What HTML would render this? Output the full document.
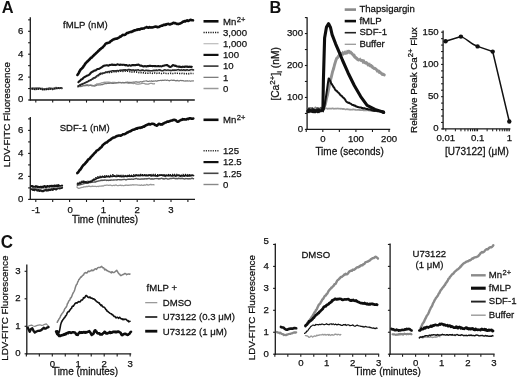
<!DOCTYPE html>
<html><head><meta charset="utf-8"><style>
html,body{margin:0;padding:0;background:#fff;}
body{width:520px;height:377px;overflow:hidden;}
svg{display:block;font-family:"Liberation Sans",sans-serif;will-change:transform;}
#w{width:520px;height:377px;}
</style></head><body>
<div id="w"><svg width="520" height="377" viewBox="0 0 520 377">
<rect width="520" height="377" fill="#fff"/>
<text transform="translate(1.7,12.9) scale(0.9615,1)" font-size="17.06" text-anchor="start" font-weight="bold" fill="#111" >A</text>
<text transform="translate(269.6,12.9) scale(0.9615,1)" font-size="17.06" text-anchor="start" font-weight="bold" fill="#111" >B</text>
<text transform="translate(0.7,248.4) scale(0.9615,1)" font-size="17.68" text-anchor="start" font-weight="bold" fill="#111" >C</text>
<line x1="30.3" y1="17.2" x2="30.3" y2="100.6" stroke="#1a1a1a" stroke-width="1.3"/>
<line x1="28.1" y1="100" x2="30.3" y2="100" stroke="#1a1a1a" stroke-width="1.1"/>
<line x1="28.1" y1="88.55" x2="30.3" y2="88.55" stroke="#1a1a1a" stroke-width="1.1"/>
<line x1="28.1" y1="77.1" x2="30.3" y2="77.1" stroke="#1a1a1a" stroke-width="1.1"/>
<line x1="28.1" y1="65.65" x2="30.3" y2="65.65" stroke="#1a1a1a" stroke-width="1.1"/>
<line x1="28.1" y1="54.2" x2="30.3" y2="54.2" stroke="#1a1a1a" stroke-width="1.1"/>
<line x1="28.1" y1="42.75" x2="30.3" y2="42.75" stroke="#1a1a1a" stroke-width="1.1"/>
<line x1="28.1" y1="31.3" x2="30.3" y2="31.3" stroke="#1a1a1a" stroke-width="1.1"/>
<line x1="28.1" y1="19.85" x2="30.3" y2="19.85" stroke="#1a1a1a" stroke-width="1.1"/>
<text transform="translate(23.4,102.46) scale(1.0000,1)" font-size="9.60" text-anchor="end" font-weight="normal" fill="#111" stroke="#111" stroke-width="0.25" >0</text>
<text transform="translate(23.4,79.56) scale(1.0000,1)" font-size="9.60" text-anchor="end" font-weight="normal" fill="#111" stroke="#111" stroke-width="0.25" >2</text>
<text transform="translate(23.4,56.66) scale(1.0000,1)" font-size="9.60" text-anchor="end" font-weight="normal" fill="#111" stroke="#111" stroke-width="0.25" >4</text>
<text transform="translate(23.4,33.76) scale(1.0000,1)" font-size="9.60" text-anchor="end" font-weight="normal" fill="#111" stroke="#111" stroke-width="0.25" >6</text>
<line x1="29.7" y1="100" x2="194.8" y2="100" stroke="#1a1a1a" stroke-width="1.3"/>
<line x1="35.8" y1="100" x2="35.8" y2="102.6" stroke="#1a1a1a" stroke-width="1.1"/>
<line x1="52.7" y1="100" x2="52.7" y2="102.6" stroke="#1a1a1a" stroke-width="1.1"/>
<line x1="69.6" y1="100" x2="69.6" y2="102.6" stroke="#1a1a1a" stroke-width="1.1"/>
<line x1="86.5" y1="100" x2="86.5" y2="102.6" stroke="#1a1a1a" stroke-width="1.1"/>
<line x1="103.4" y1="100" x2="103.4" y2="102.6" stroke="#1a1a1a" stroke-width="1.1"/>
<line x1="120.3" y1="100" x2="120.3" y2="102.6" stroke="#1a1a1a" stroke-width="1.1"/>
<line x1="137.2" y1="100" x2="137.2" y2="102.6" stroke="#1a1a1a" stroke-width="1.1"/>
<line x1="154.1" y1="100" x2="154.1" y2="102.6" stroke="#1a1a1a" stroke-width="1.1"/>
<line x1="171" y1="100" x2="171" y2="102.6" stroke="#1a1a1a" stroke-width="1.1"/>
<line x1="187.9" y1="100" x2="187.9" y2="102.6" stroke="#1a1a1a" stroke-width="1.1"/>
<text transform="translate(63.1,27.9) scale(0.9615,1)" font-size="9.98" text-anchor="start" font-weight="normal" fill="#111" stroke="#111" stroke-width="0.25" >fMLP (nM)</text>
<line x1="30.3" y1="117" x2="30.3" y2="200" stroke="#1a1a1a" stroke-width="1.3"/>
<line x1="28.1" y1="199.4" x2="30.3" y2="199.4" stroke="#1a1a1a" stroke-width="1.1"/>
<line x1="28.1" y1="187.9" x2="30.3" y2="187.9" stroke="#1a1a1a" stroke-width="1.1"/>
<line x1="28.1" y1="176.4" x2="30.3" y2="176.4" stroke="#1a1a1a" stroke-width="1.1"/>
<line x1="28.1" y1="164.9" x2="30.3" y2="164.9" stroke="#1a1a1a" stroke-width="1.1"/>
<line x1="28.1" y1="153.4" x2="30.3" y2="153.4" stroke="#1a1a1a" stroke-width="1.1"/>
<line x1="28.1" y1="141.9" x2="30.3" y2="141.9" stroke="#1a1a1a" stroke-width="1.1"/>
<line x1="28.1" y1="130.4" x2="30.3" y2="130.4" stroke="#1a1a1a" stroke-width="1.1"/>
<line x1="28.1" y1="118.9" x2="30.3" y2="118.9" stroke="#1a1a1a" stroke-width="1.1"/>
<text transform="translate(23.4,201.86) scale(1.0000,1)" font-size="9.60" text-anchor="end" font-weight="normal" fill="#111" stroke="#111" stroke-width="0.25" >0</text>
<text transform="translate(23.4,178.86) scale(1.0000,1)" font-size="9.60" text-anchor="end" font-weight="normal" fill="#111" stroke="#111" stroke-width="0.25" >2</text>
<text transform="translate(23.4,155.86) scale(1.0000,1)" font-size="9.60" text-anchor="end" font-weight="normal" fill="#111" stroke="#111" stroke-width="0.25" >4</text>
<text transform="translate(23.4,132.86) scale(1.0000,1)" font-size="9.60" text-anchor="end" font-weight="normal" fill="#111" stroke="#111" stroke-width="0.25" >6</text>
<line x1="29.7" y1="199.4" x2="195" y2="199.4" stroke="#1a1a1a" stroke-width="1.3"/>
<line x1="35.8" y1="199.4" x2="35.8" y2="202" stroke="#1a1a1a" stroke-width="1.1"/>
<line x1="52.7" y1="199.4" x2="52.7" y2="202" stroke="#1a1a1a" stroke-width="1.1"/>
<line x1="69.6" y1="199.4" x2="69.6" y2="202" stroke="#1a1a1a" stroke-width="1.1"/>
<line x1="86.5" y1="199.4" x2="86.5" y2="202" stroke="#1a1a1a" stroke-width="1.1"/>
<line x1="103.4" y1="199.4" x2="103.4" y2="202" stroke="#1a1a1a" stroke-width="1.1"/>
<line x1="120.3" y1="199.4" x2="120.3" y2="202" stroke="#1a1a1a" stroke-width="1.1"/>
<line x1="137.2" y1="199.4" x2="137.2" y2="202" stroke="#1a1a1a" stroke-width="1.1"/>
<line x1="154.1" y1="199.4" x2="154.1" y2="202" stroke="#1a1a1a" stroke-width="1.1"/>
<line x1="171" y1="199.4" x2="171" y2="202" stroke="#1a1a1a" stroke-width="1.1"/>
<line x1="187.9" y1="199.4" x2="187.9" y2="202" stroke="#1a1a1a" stroke-width="1.1"/>
<text transform="translate(35.8,213.4) scale(1.0000,1)" font-size="9.60" text-anchor="middle" font-weight="normal" fill="#111" stroke="#111" stroke-width="0.25" >-1</text>
<text transform="translate(70.2,213.4) scale(1.0000,1)" font-size="9.60" text-anchor="middle" font-weight="normal" fill="#111" stroke="#111" stroke-width="0.25" >0</text>
<text transform="translate(103.4,213.4) scale(1.0000,1)" font-size="9.60" text-anchor="middle" font-weight="normal" fill="#111" stroke="#111" stroke-width="0.25" >1</text>
<text transform="translate(137.2,213.4) scale(1.0000,1)" font-size="9.60" text-anchor="middle" font-weight="normal" fill="#111" stroke="#111" stroke-width="0.25" >2</text>
<text transform="translate(171,213.4) scale(1.0000,1)" font-size="9.60" text-anchor="middle" font-weight="normal" fill="#111" stroke="#111" stroke-width="0.25" >3</text>
<text transform="translate(105,222.6) scale(0.9615,1)" font-size="10.40" text-anchor="middle" font-weight="normal" fill="#111" stroke="#111" stroke-width="0.25" >Time (minutes)</text>
<text transform="translate(59.7,131.4) scale(0.9615,1)" font-size="9.98" text-anchor="start" font-weight="normal" fill="#111" stroke="#111" stroke-width="0.25" >SDF-1 (nM)</text>
<text transform="translate(9.9,114.7) rotate(-90)" font-size="9.8" text-anchor="middle" fill="#111" stroke="#111" stroke-width="0.25">LDV-FITC Fluorescence</text>
<polyline points="31.7,88.46 32.4,88.28 33.11,88.59 33.81,88.31 34.52,88.53 35.22,88.53 35.93,88.3 36.63,88.54 37.34,88.31 38.04,88.51 38.75,88.34 39.45,88.28 40.16,88.52 40.86,88.96 41.57,88.65 42.27,88.58 42.97,88.87 43.68,89.27 44.38,89.2 45.09,89.02 45.79,89.33 46.5,88.75 47.2,89.07 47.91,88.77 48.61,88.48 49.32,88.3 50.02,88.33 50.73,88.72 51.43,88.4 52.13,88.53 52.84,88.62 53.54,88.44 54.25,88.46 54.95,88.08 55.66,87.87 56.36,87.85 57.07,88.19 57.77,88.14 58.48,88.01 59.18,88.13 59.89,88.07 60.59,87.9 61.3,88.18 62,88.22" fill="none" stroke="#555" stroke-width="2.0" stroke-linejoin="round" stroke-linecap="round"/>
<polyline points="31.7,88.67 32.4,88.87 33.11,88.94 33.81,89.29 34.52,89.35 35.22,89 35.93,89.45 36.63,88.92 37.34,88.93 38.04,89.25 38.75,88.89 39.45,89.01 40.16,88.69 40.86,89.09 41.57,89.39 42.27,89.38 42.97,89.65 43.68,89.3 44.38,89.47 45.09,89.47 45.79,89.41 46.5,89.25 47.2,89.49 47.91,89.68 48.61,89.34 49.32,89.32 50.02,88.75 50.73,89.01 51.43,89.08 52.13,89.39 52.84,89.38 53.54,88.88 54.25,88.7 54.95,88.83 55.66,88.31 56.36,88.42 57.07,88.19 57.77,88.01 58.48,87.85 59.18,88.37 59.89,88.05 60.59,87.97 61.3,88.04 62,88.48" fill="none" stroke="#111" stroke-width="1.6" stroke-linejoin="round" stroke-linecap="butt" stroke-dasharray="1.3 0.9"/>
<polyline points="77.6,86.62 78.31,86.57 79.01,86.53 79.72,86.65 80.42,86.59 81.13,86.5 81.83,86 82.54,85.75 83.24,85.52 83.95,85.66 84.66,85.71 85.36,85.12 86.07,84.77 86.77,84.75 87.48,84.75 88.18,84.94 88.89,85.12 89.59,85.01 90.3,84.8 91,84.99 91.71,85.07 92.42,85.26 93.12,85.62 93.83,85.65 94.53,85.29 95.24,84.96 95.94,84.67 96.65,83.94 97.35,83.97 98.06,83.76 98.77,83.78 99.47,83.7 100.18,83.34 100.88,83.12 101.59,82.77 102.29,82.9 103,82.55 103.7,82.33 104.41,82.26 105.11,82.17 105.82,82.29 106.53,82.16 107.23,82.06 107.94,82.12 108.64,82.12 109.35,82.29 110.05,82.16 110.76,82.66 111.46,82.74 112.17,82.48 112.88,82.42 113.58,82.45 114.29,82.49 114.99,82.35 115.7,82.76 116.4,83.07 117.11,82.88 117.81,82.79 118.52,82.5 119.22,82.36 119.93,82.45 120.64,82.45 121.34,82.83 122.05,82.58 122.75,82.37 123.46,82.88 124.16,82.86 124.87,82.6 125.57,82.77 126.28,82.54 126.99,82.78 127.69,83.22 128.4,83.39 129.1,83.38 129.81,83.12 130.51,83.08 131.22,82.95 131.92,83.31 132.63,83.35 133.33,83.56 134.04,83.39 134.75,83.26 135.45,83.61 136.16,83.92 136.86,84.01 137.57,84.05 138.27,84.1 138.98,84.1 139.68,83.78 140.39,83.81 141.1,83.7 141.8,83.42 142.51,83.28 143.21,83.37 143.92,83.39 144.62,83.69 145.33,84 146.03,83.82 146.74,84.05 147.44,84.19 148.15,84.23 148.86,83.86 149.56,83.58 150.27,83.43 150.97,83.34 151.68,83.29 152.38,83.54 153.09,83.84 153.79,83.94 154.5,83.75" fill="none" stroke="#999" stroke-width="1.3" stroke-linejoin="round" stroke-linecap="round"/>
<polyline points="77.6,86.8 78.3,86.83 79,86.32 79.71,86.38 80.41,86.52 81.11,86.44 81.81,86.33 82.52,86.03 83.22,85.63 83.92,85.77 84.62,85.48 85.33,85.59 86.03,85.7 86.73,85.49 87.43,85.41 88.14,85.76 88.84,85.81 89.54,85.5 90.24,85.34 90.95,85.3 91.65,85.81 92.35,86.02 93.05,85.72 93.76,86.04 94.46,86.2 95.16,85.96 95.86,85.57 96.57,85.43 97.27,85.02 97.97,84.66 98.67,85.04 99.38,84.94 100.08,84.74 100.78,84.84 101.48,84.49 102.18,84.56 102.89,84.54 103.59,84.08 104.29,83.83 104.99,83.69 105.7,83.54 106.4,83.66 107.1,83.45 107.8,83.41 108.51,83.16 109.21,83.51 109.91,83.27 110.61,83.22 111.32,83.26 112.02,83.47 112.72,83.24 113.42,83.44 114.13,83.24 114.83,83.14 115.53,83.07 116.23,82.68 116.94,82.75 117.64,82.59 118.34,82.38 119.04,82.78 119.75,82.54 120.45,82.61 121.15,82.79 121.85,82.75 122.56,82.55 123.26,82.57 123.96,82.58 124.66,82.72 125.36,82.32 126.07,82.4 126.77,82.21 127.47,82.12 128.17,82.38 128.88,82.32 129.58,82.3 130.28,82.4 130.98,82.54 131.69,82.27 132.39,82.23 133.09,82.12 133.79,82.05 134.5,82.12 135.2,81.97 135.9,81.93 136.6,81.86 137.31,82.11 138.01,82.05 138.71,82.12 139.41,82.18 140.12,81.74 140.82,81.7 141.52,81.91 142.22,81.93 142.93,81.45 143.63,81.19 144.33,81.24 145.03,81.01 145.74,80.98 146.44,80.84 147.14,81.14 147.84,81.35 148.54,81.51 149.25,81.08 149.95,81.21 150.65,81.23 151.35,80.88 152.06,81.18 152.76,81.37 153.46,80.95 154.16,81.21 154.87,80.96 155.57,80.87 156.27,81.15 156.97,81.16 157.68,80.71 158.38,80.65 159.08,80.65 159.78,80.52 160.49,80.35 161.19,80.32 161.89,80.56 162.59,80.2 163.3,80.36 164,80.34 164.7,80.04 165.4,80.08 166.11,80.28 166.81,80.28 167.51,80.02 168.21,80.51 168.92,80.63 169.62,80.83 170.32,80.36 171.02,80.25 171.72,80.05 172.43,80.45 173.13,80.33 173.83,80.18 174.53,80.31 175.24,80.71 175.94,80.86 176.64,80.58 177.34,80.37 178.05,80.79 178.75,80.78 179.45,80.87 180.15,80.52 180.86,80.34 181.56,80.67 182.26,80.68 182.96,80.46 183.67,80.93 184.37,80.98 185.07,81.12 185.77,80.73 186.48,81.05 187.18,80.71 187.88,81.07 188.58,80.99 189.29,80.89 189.99,80.99 190.69,81.29 191.39,81.02 192.1,80.81 192.8,80.97 193.5,80.87" fill="none" stroke="#777" stroke-width="1.2" stroke-linejoin="round" stroke-linecap="round"/>
<polyline points="78,86.43 78.7,86.05 79.4,85.66 80.1,85.38 80.8,85.13 81.5,84.85 82.2,84.75 82.9,84.34 83.6,84.07 84.3,83.64 85,83.3 85.7,82.81 86.4,82.5 87.1,82.06 87.8,81.98 88.5,81.69 89.2,81.21 89.9,80.92 90.6,80.76 91.3,80.11 92,79.91 92.7,79.44 93.4,79.04 94.1,78.79 94.8,78.27 95.5,77.82 96.2,77.45 96.9,77.18 97.6,76.55 98.3,76.23 99,75.79 99.7,75.32 100.4,74.79 101.1,74.38 101.8,73.89 102.5,73.51 103.2,73.14 103.9,73.08 104.6,72.82 105.3,72.65 106,72.5 106.7,72.71 107.4,72.79 108.1,72.7 108.8,72.44 109.5,72.25 110.2,72.14 110.9,72.12 111.6,71.93 112.3,71.92 113,71.8 113.7,72 114.4,72.07 115.1,71.89 115.8,71.63 116.5,71.79 117.2,71.55 117.9,71.41 118.6,71.16 119.3,71.16 120,71.18 120.7,71.16 121.4,70.99 122.1,71 122.8,70.76 123.5,70.72 124.2,70.6 124.9,70.71 125.6,70.6 126.3,70.54 127,70.63 127.7,70.65 128.4,70.81 129.1,70.87 129.8,70.99 130.5,71.02 131.2,71.05 131.9,71.14 132.6,70.97 133.3,70.86 134,71.09 134.7,70.86 135.4,71.01 136.1,71.06 136.8,70.84 137.5,71.08 138.2,71.24 138.9,71.21 139.6,71.26 140.3,71.33 141,71.07 141.7,71.13 142.4,71.16 143.1,71.33 143.8,71.41 144.5,71.48 145.2,71.41 145.9,71.52 146.6,71.5 147.3,71.5 148,71.31 148.7,71.14 149.4,71.11 150.1,71.2 150.8,71.12 151.5,71.39 152.2,71.41 152.9,71.44 153.6,71.45 154.3,71.48 155,71.4 155.7,71.14 156.4,71.36 157.1,71.45 157.8,71.38 158.5,71.35 159.2,71.39 159.9,71.14 160.6,71.31 161.3,71.18 162,71.03 162.7,71.03 163.4,71.24 164.1,71.1 164.8,71.27 165.5,71.45 166.2,71.33 166.9,71.21 167.6,71.19 168.3,71.27 169,71.34 169.7,71.3 170.4,71.29 171.1,71.04 171.8,70.93 172.5,70.93 173.2,71.13 173.9,71.04 174.6,71.1 175.3,70.89 176,70.8 176.7,70.84 177.4,71.03 178.1,71.14 178.8,71.18 179.5,71.02 180.2,71.04 180.9,71.02 181.6,71.01 182.3,70.85 183,71.1 183.7,70.92 184.4,71.17 185.1,71.27 185.8,70.91 186.5,70.92 187.2,71.09 187.9,71.23 188.6,71.07 189.3,70.9 190,70.79 190.7,71.05 191.4,70.86 192.1,70.92 192.8,70.75 193.5,70.83" fill="none" stroke="#c8c8c8" stroke-width="0.9" stroke-linejoin="round" stroke-linecap="round"/>
<polyline points="78,86.55 78.7,86.04 79.4,85.86 80.1,85.51 80.8,85.31 81.5,84.99 82.2,84.52 82.9,84.34 83.6,83.97 84.3,83.47 85,83.02 85.7,82.78 86.4,82.48 87.1,82.1 87.8,81.68 88.5,81.36 89.2,81.02 89.9,80.85 90.6,80.25 91.3,80 92,79.69 92.7,79.1 93.4,78.87 94.1,78.47 94.8,78.13 95.5,77.53 96.2,77.03 96.9,76.58 97.6,76.33 98.3,75.85 99,75.32 99.7,74.85 100.4,74.38 101.1,74 101.8,73.7 102.5,73.65 103.2,73.31 103.9,73.22 104.6,72.92 105.3,72.77 106,72.73 106.7,72.56 107.4,72.49 108.1,72.6 108.8,72.59 109.5,72.52 110.2,72.37 110.9,72.35 111.6,72.31 112.3,72.11 113,72.02 113.7,71.71 114.4,71.74 115.1,71.66 115.8,71.71 116.5,71.67 117.2,71.52 117.9,71.34 118.6,71.52 119.3,71.33 120,71.33 120.7,71.26 121.4,71.2 122.1,71.29 122.8,71.39 123.5,71.19 124.2,71.2 124.9,71.07 125.6,71.16 126.3,71.2 127,71.18 127.7,71.21 128.4,71.27 129.1,71.57 129.8,71.62 130.5,71.59 131.2,71.84 131.9,72.03 132.6,71.98 133.3,71.89 134,71.9 134.7,71.91 135.4,72.02 136.1,72.03 136.8,72.12 137.5,72.2 138.2,72.38 138.9,72.61 139.6,72.71 140.3,72.68 141,72.71 141.7,72.79 142.4,72.81 143.1,72.84 143.8,72.8 144.5,72.89 145.2,73.17 145.9,73.02 146.6,73.07 147.3,73.15 148,73.26 148.7,73.11 149.4,73.06 150.1,73.02 150.8,73.06 151.5,73.1 152.2,73.29 152.9,73.35 153.6,73.4 154.3,73.14 155,73.02 155.7,73.19 156.4,73.34 157.1,73.28 157.8,73.29 158.5,73.1 159.2,73.14 159.9,73.34 160.6,73.41 161.3,73.46 162,73.53 162.7,73.33 163.4,73.18 164.1,73.13 164.8,73.23 165.5,73.33 166.2,73.48 166.9,73.48 167.6,73.46 168.3,73.49 169,73.41 169.7,73.4 170.4,73.23 171.1,73.4 171.8,73.3 172.5,73.49 173.2,73.49 173.9,73.38 174.6,73.27 175.3,73.27 176,73.39 176.7,73.48 177.4,73.33 178.1,73.25 178.8,73.36 179.5,73.44 180.2,73.42 180.9,73.36 181.6,73.45 182.3,73.31 183,73.34 183.7,73.41 184.4,73.61 185.1,73.61 185.8,73.7 186.5,73.61 187.2,73.49 187.9,73.44 188.6,73.65 189.3,73.67 190,73.56 190.7,73.41 191.4,73.5 192.1,73.6 192.8,73.57 193.5,73.51" fill="none" stroke="#1a1a1a" stroke-width="1.6" stroke-linejoin="round" stroke-linecap="butt" stroke-dasharray="1.2 1.1"/>
<polyline points="78,86.01 78.7,85.92 79.4,85.27 80.1,84.65 80.8,84.39 81.5,84.16 82.2,84.06 82.9,83.54 83.6,83.51 84.3,83.31 85,82.86 85.7,82.26 86.4,82.29 87.1,81.7 87.8,81.56 88.5,80.93 89.2,80.43 89.9,80.36 90.6,79.79 91.3,79.73 92,79.2 92.7,78.52 93.4,78 94.1,77.67 94.8,77.45 95.5,77.29 96.2,76.45 96.9,75.97 97.6,75.39 98.3,75.38 99,74.59 99.7,73.92 100.4,73.39 101.1,73.29 101.8,73.44 102.5,73.38 103.2,73.11 103.9,73.02 104.6,72.8 105.3,72.29 106,71.92 106.7,72.18 107.4,72.15 108.1,71.62 108.8,71.72 109.5,71.54 110.2,71.41 110.9,71.27 111.6,71.05 112.3,70.78 113,70.79 113.7,70.8 114.4,71.16 115.1,70.76 115.8,71.08 116.5,70.7 117.2,70.57 117.9,70.78 118.6,70.85 119.3,70.59 120,70.17 120.7,70.2 121.4,70.12 122.1,70.4 122.8,70.02 123.5,69.91 124.2,70.19 124.9,69.79 125.6,69.83 126.3,70.12 127,70.24 127.7,69.82 128.4,69.6 129.1,69.51 129.8,70.03 130.5,69.86 131.2,70.09 131.9,70.31 132.6,70.05 133.3,69.87 134,70.25 134.7,70.23 135.4,69.99 136.1,70.19 136.8,70.03 137.5,69.94 138.2,69.72 138.9,70.12 139.6,70.44 140.3,70.42 141,70.62 141.7,70.13 142.4,70.03 143.1,70.16 143.8,70.54 144.5,70.75 145.2,70.49 145.9,70.28 146.6,70.3 147.3,70.37 148,70.7 148.7,70.38 149.4,70.64 150.1,70.74 150.8,70.82 151.5,70.82 152.2,70.71 152.9,70.46 153.6,70.33 154.3,70.28 155,70.53 155.7,70.19 156.4,70.09 157.1,70.4 157.8,70.21 158.5,70 159.2,69.86 159.9,70.13 160.6,70.11 161.3,70.52 162,70.66 162.7,70.8 163.4,70.38 164.1,70.05 164.8,69.88 165.5,70.06 166.2,70.28 166.9,70.21 167.6,70.03 168.3,70.06 169,70.2 169.7,70.3 170.4,70.39 171.1,70.5 171.8,70.43 172.5,70.03 173.2,70.3 173.9,70.06 174.6,70.12 175.3,70.02 176,70.2 176.7,69.93 177.4,69.82 178.1,69.76 178.8,69.66 179.5,70.09 180.2,70.1 180.9,69.93 181.6,69.89 182.3,70.25 183,70.11 183.7,69.85 184.4,70.1 185.1,70.11 185.8,70.34 186.5,69.86 187.2,69.86 187.9,70.08 188.6,70.2 189.3,70.3 190,69.77 190.7,69.67 191.4,69.49 192.1,69.45 192.8,69.94 193.5,69.92" fill="none" stroke="#2a2a2a" stroke-width="1.6" stroke-linejoin="round" stroke-linecap="round"/>
<polyline points="78.4,82.18 79.1,81.39 79.8,81.03 80.5,80.29 81.2,79.51 81.9,79.18 82.6,78.84 83.3,77.83 84,77.37 84.7,77.03 85.4,76.52 86.1,76.22 86.8,75.78 87.5,75.47 88.2,75.2 88.9,74.86 89.6,74.38 90.3,73.53 91,72.66 91.7,72.12 92.4,71.81 93.1,71.29 93.8,70.94 94.5,70.53 95.2,70.55 95.9,70.23 96.6,69.58 97.3,69.13 98,69 98.7,68.9 99.4,68.78 100.1,68.23 100.8,67.69 101.5,67.49 102.2,66.95 102.9,66.35 103.6,65.81 104.3,65.78 105,65.49 105.7,65.49 106.4,65.31 107.1,65.23 107.8,65.45 108.5,65.61 109.2,65.24 109.9,64.91 110.6,65.07 111.3,64.76 112,64.48 112.7,64.94 113.4,64.84 114.1,65.04 114.8,64.86 115.5,65.08 116.2,64.9 116.9,64.61 117.6,64.36 118.3,64.58 119,64.74 119.7,64.99 120.4,64.58 121.1,64.79 121.8,64.75 122.5,64.85 123.2,64.69 123.9,64.73 124.6,64.94 125.3,65.34 126,65.02 126.7,65.15 127.4,65.45 128.1,65.73 128.8,65.39 129.5,65.1 130.2,65.47 130.9,65.65 131.6,65.39 132.3,64.95 133,65.28 133.7,65.06 134.4,65.27 135.1,65.16 135.8,65.22 136.5,64.78 137.2,64.95 137.9,64.64 138.6,64.62 139.3,65.19 140,65.6 140.7,65.51 141.4,65.63 142.1,65.95 142.8,66.33 143.5,66.46 144.2,66.2 144.9,66.11 145.6,66.35 146.3,66.54 147,66.04 147.7,66.09 148.4,66.21 149.1,65.76 149.8,66.03 150.5,65.73 151.2,65.93 151.9,66.01 152.6,66.12 153.3,65.98 154,66.01 154.7,66.14 155.4,66.12 156.1,66.29 156.8,66.25 157.5,66.24 158.2,65.98 158.9,66.26 159.6,66.33 160.3,66.15 161,66.32 161.7,66.37 162.4,66.12 163.1,65.76 163.8,65.72 164.5,65.41 165.2,65.22 165.9,65.26 166.6,65.01 167.3,65.07 168,65.73 168.7,66.03 169.4,66.84 170.1,67 170.8,66.75 171.5,66.37 172.2,65.72 172.9,65.11 173.6,65.36 174.3,65.46 175,65.95 175.7,65.72 176.4,66.14 177.1,66.5 177.8,66.57 178.5,66.72 179.2,66.45 179.9,66.9 180.6,66.76 181.3,67 182,67.1 182.7,66.66 183.4,66.85 184.1,67.05 184.8,66.59 185.5,66.55 186.2,66.8 186.9,66.54 187.6,66.9 188.3,66.68 189,66.93 189.7,66.62 190.4,66.7 191.1,67.03 191.8,66.73" fill="none" stroke="#151515" stroke-width="2.1" stroke-linejoin="round" stroke-linecap="round"/>
<polyline points="77.4,74.98 78.1,74.06 78.8,72.85 79.5,71.41 80.2,70.25 80.9,69.14 81.6,68.79 82.3,67.95 83,67.3 83.71,65.9 84.41,65.29 85.11,63.9 85.81,63.05 86.51,62.4 87.21,61.49 87.91,61.1 88.61,60.26 89.31,59.51 90.01,59.07 90.71,57.87 91.41,57.76 92.11,57.08 92.81,56.2 93.51,55.74 94.21,54.68 94.92,54.47 95.62,53.71 96.32,52.83 97.02,52.43 97.72,51.63 98.42,50.69 99.12,50.42 99.82,49.36 100.52,49.2 101.22,48.31 101.92,47.86 102.62,47.53 103.32,46.59 104.02,45.92 104.72,44.99 105.42,44.02 106.12,43.4 106.83,43.05 107.53,43.15 108.23,42.87 108.93,42.58 109.63,42.49 110.33,41.53 111.03,40.89 111.73,40.71 112.43,39.98 113.13,39.48 113.83,39.4 114.53,39 115.23,38.89 115.93,38.58 116.63,38.6 117.33,38.47 118.04,37.89 118.74,37.72 119.44,37.25 120.14,36.49 120.84,36.62 121.54,35.92 122.24,35.35 122.94,34.86 123.64,34.94 124.34,35.02 125.04,34.82 125.74,34.21 126.44,33.61 127.14,32.91 127.84,32.93 128.54,32.7 129.24,32.24 129.95,32.17 130.65,31.82 131.35,31.95 132.05,31.69 132.75,31 133.45,31.11 134.15,30.33 134.85,30.35 135.55,30.23 136.25,29.97 136.95,29.57 137.65,29.85 138.35,29.23 139.05,29.32 139.75,29.62 140.45,28.99 141.16,28.64 141.86,28.73 142.56,28.59 143.26,28.53 143.96,28.55 144.66,27.9 145.36,27.62 146.06,27.4 146.76,27.01 147.46,27.5 148.16,27.59 148.86,27.6 149.56,27.03 150.26,27.47 150.96,27.59 151.66,27.39 152.36,27.53 153.07,27.36 153.77,27.09 154.47,26.82 155.17,26.76 155.87,26.53 156.57,26.67 157.27,27.12 157.97,27.08 158.67,27.06 159.37,26.79 160.07,26.14 160.77,25.95 161.47,25.65 162.17,25.7 162.87,25.39 163.57,24.89 164.28,24.87 164.98,25.03 165.68,24.35 166.38,24.6 167.08,24.01 167.78,23.94 168.48,23.87 169.18,24.22 169.88,24.47 170.58,24.28 171.28,23.68 171.98,23.74 172.68,23.19 173.38,22.78 174.08,23.12 174.78,23.08 175.48,23.34 176.19,23.55 176.89,24.02 177.59,23.9 178.29,24.09 178.99,23.82 179.69,23.71 180.39,23.17 181.09,23.03 181.79,22.68 182.49,22.11 183.19,21.56 183.89,21.58 184.59,21.03 185.29,21.43 185.99,20.93 186.69,20.54 187.4,20.38 188.1,20.99 188.8,20.73 189.5,20.35 190.2,20 190.9,19.78 191.6,20.18 192.3,20.27 193,20.31" fill="none" stroke="#0d0d0d" stroke-width="2.6" stroke-linejoin="round" stroke-linecap="round"/>
<polyline points="31.7,186.22 32.4,186.16 33.11,187.08 33.81,186.76 34.52,187.18 35.22,187.03 35.93,186.22 36.63,186.54 37.34,186.72 38.04,187.28 38.75,186.9 39.45,187.33 40.16,187.27 40.86,186.85 41.57,187.66 42.27,186.82 42.97,187.49 43.68,186.73 44.38,186.21 45.09,186.28 45.79,187.01 46.5,187.47 47.2,186.2 47.91,186.44 48.61,186.45 49.32,186.82 50.02,186.02 50.73,186.15 51.43,185.93 52.13,186.48 52.84,185.85 53.54,186.59 54.25,185.88 54.95,185.55 55.66,186.1 56.36,185.97 57.07,185.37 57.77,185.9 58.48,185.27 59.18,186.04 59.89,186.13 60.59,186.26 61.3,186.06 62,185.6" fill="none" stroke="#111" stroke-width="2.3" stroke-linejoin="round" stroke-linecap="round"/>
<polyline points="31.7,189.06 32.4,189.12 33.11,189.9 33.81,189.1 34.52,190.05 35.22,189.21 35.93,189.29 36.63,189.47 37.34,190.48 38.04,190.31 38.75,190.16 39.45,190.9 40.16,190.29 40.86,190.5 41.57,190.74 42.27,191.12 42.97,191.12 43.68,190.9 44.38,190.36 45.09,190.09 45.79,189.71 46.5,190.48 47.2,190.39 47.91,190.4 48.61,189.55 49.32,189.59 50.02,190 50.73,189.79 51.43,189.02 52.13,189.19 52.84,189.78 53.54,188.99 54.25,188.64 54.95,188.62 55.66,189.12 56.36,189.4 57.07,188.47 57.77,188.13 58.48,188.1 59.18,188.14 59.89,188.37 60.59,187.87 61.3,187.9 62,187.65" fill="none" stroke="#1a1a1a" stroke-width="2.3" stroke-linejoin="round" stroke-linecap="round"/>
<polyline points="31.7,188.11 32.4,188.18 33.11,187.84 33.81,188.28 34.52,187.96 35.22,188.03 35.93,188.5 36.63,188.64 37.34,188.72 38.04,188.59 38.75,188.41 39.45,188.65 40.16,188.45 40.86,188.46 41.57,188.62 42.27,188.44 42.97,188.5 43.68,188.75 44.38,188.77 45.09,188.61 45.79,188.57 46.5,188.4 47.2,188.06 47.91,188.15 48.61,188.02 49.32,188.14 50.02,188.27 50.73,187.97 51.43,187.88 52.13,187.91 52.84,187.69 53.54,187.43 54.25,187.59 54.95,187.75 55.66,187.73 56.36,187.65 57.07,187.67 57.77,187.55 58.48,187.43 59.18,187.22 59.89,186.99 60.59,187.06 61.3,186.71 62,186.73" fill="none" stroke="#999" stroke-width="1.0" stroke-linejoin="round" stroke-linecap="round"/>
<polyline points="76.9,186.99 77.6,187.66 78.3,188.26 79,188.36 79.7,188.1 80.4,187.86 81.11,187.73 81.81,187.4 82.51,187.28 83.21,187.27 83.91,186.72 84.61,186.78 85.31,186.85 86.01,186.59 86.71,186.49 87.41,186.72 88.11,186.18 88.82,186.26 89.52,186.05 90.22,186.36 90.92,186.62 91.62,186.47 92.32,186.12 93.02,186.26 93.72,186.31 94.42,186.45 95.12,186.38 95.82,186.43 96.53,186.58 97.23,186.46 97.93,186.32 98.63,186.55 99.33,186.14 100.03,186.21 100.73,186.03 101.43,186.15 102.13,185.75 102.83,186.09 103.53,185.81 104.24,185.44 104.94,185.37 105.64,185.38 106.34,185.1 107.04,185.19 107.74,185.21 108.44,185.43 109.14,185.31 109.84,185.19 110.54,185.1 111.24,185.4 111.95,185.67 112.65,185.54 113.35,185.26 114.05,185.51 114.75,185.36 115.45,185.16 116.15,185.01 116.85,185.36 117.55,185.55 118.25,185.53 118.95,185.41 119.66,185.41 120.36,185.18 121.06,185.55 121.76,185.33 122.46,185.41 123.16,185.57 123.86,185.64 124.56,185.44 125.26,185.22 125.96,185.27 126.66,185.01 127.37,185.34 128.07,185.18 128.77,185.43 129.47,185.16 130.17,185.09 130.87,184.97 131.57,185.02 132.27,184.88 132.97,184.68 133.67,185.05 134.37,184.94 135.08,184.85 135.78,184.84 136.48,184.95 137.18,184.96 137.88,185.1 138.58,185.18 139.28,185.01 139.98,185.3 140.68,185.39 141.38,184.9 142.08,185.16 142.79,185.34 143.49,185.34 144.19,184.91 144.89,185.14 145.59,185.12 146.29,184.7 146.99,184.48 147.69,184.98 148.39,185.04 149.09,184.79 149.79,184.56 150.5,184.47 151.2,184.48 151.9,184.83 152.6,184.72 153.3,184.53 154,184.93" fill="none" stroke="#999" stroke-width="1.3" stroke-linejoin="round" stroke-linecap="round"/>
<polyline points="77.4,185.49 78.1,184.96 78.81,185.07 79.51,184.82 80.21,184.71 80.92,184.47 81.62,184.39 82.33,184.17 83.03,183.99 83.73,183.39 84.44,183.44 85.14,183.33 85.84,183.37 86.55,183.15 87.25,183.3 87.95,183.12 88.66,182.81 89.36,182.59 90.07,182.38 90.77,182.48 91.47,182.2 92.18,182.3 92.88,182.09 93.58,182.12 94.29,182.01 94.99,181.89 95.69,181.95 96.4,181.32 97.1,181.46 97.81,181.18 98.51,181.01 99.21,180.9 99.92,180.86 100.62,180.44 101.32,180.27 102.03,180.56 102.73,180.12 103.43,180.26 104.14,180.32 104.84,179.94 105.55,180.12 106.25,180.25 106.95,180.47 107.66,180.18 108.36,180.45 109.06,180.27 109.77,180.15 110.47,180.35 111.17,179.88 111.88,180.08 112.58,180.11 113.29,179.92 113.99,180.15 114.69,179.92 115.4,179.87 116.1,179.86 116.8,180 117.51,179.68 118.21,179.66 118.91,179.62 119.62,179.68 120.32,179.87 121.03,179.6 121.73,179.8 122.43,179.6 123.14,179.56 123.84,179.37 124.54,179.41 125.25,179.73 125.95,179.66 126.65,179.7 127.36,179.4 128.06,179.22 128.77,179.11 129.47,179.23 130.17,179.3 130.88,179.42 131.58,178.98 132.28,179.19 132.99,179.39 133.69,179.25 134.39,178.83 135.1,178.78 135.8,178.54 136.51,178.53 137.21,178.99 137.91,179 138.62,179.02 139.32,179.1 140.02,179.2 140.73,179.07 141.43,179.01 142.13,178.98 142.84,179.01 143.54,178.96 144.25,178.99 144.95,178.7 145.65,178.85 146.36,178.78 147.06,178.95 147.76,178.6 148.47,178.47 149.17,178.31 149.87,178.72 150.58,179.01 151.28,178.99 151.99,178.78 152.69,178.98 153.39,179.05 154.1,178.94 154.8,178.68 155.5,178.58 156.21,178.61 156.91,178.55 157.61,178.6 158.32,178.76 159.02,179.03 159.73,178.58 160.43,178.7 161.13,178.4 161.84,178.31 162.54,178.72 163.24,178.76 163.95,179.01 164.65,178.82 165.35,178.44 166.06,178.5 166.76,178.66 167.47,178.97 168.17,179.15 168.87,178.9 169.58,178.74 170.28,178.45 170.98,178.66 171.69,178.48 172.39,178.35 173.09,178.19 173.8,178.1 174.5,178.51 175.21,178.34 175.91,178.81 176.61,178.46 177.32,178.8 178.02,178.48 178.72,178.25 179.43,178.59 180.13,178.45 180.83,178.7 181.54,178.47 182.24,178.26 182.95,178.63 183.65,178.77 184.35,178.94 185.06,178.93 185.76,178.51 186.46,178.65 187.17,178.77 187.87,178.67 188.57,178.93 189.28,178.61 189.98,178.92 190.69,178.91 191.39,178.43 192.09,178.2 192.8,178.5 193.5,178.76" fill="none" stroke="#555" stroke-width="1.4" stroke-linejoin="round" stroke-linecap="round"/>
<polyline points="77.4,184.02 78.1,183.76 78.81,183.77 79.51,183.27 80.21,183.34 80.92,183 81.62,182.4 82.33,182.18 83.03,182.06 83.73,181.84 84.44,182.07 85.14,181.87 85.84,182.23 86.55,182.17 87.25,182.36 87.95,182.48 88.66,182.29 89.36,181.91 90.07,181.82 90.77,181.73 91.47,181.43 92.18,180.98 92.88,180.42 93.58,179.78 94.29,179.85 94.99,179.51 95.69,179.22 96.4,178.55 97.1,178.2 97.81,178.07 98.51,177.92 99.21,177.66 99.92,177.29 100.62,177.12 101.32,177.28 102.03,176.96 102.73,176.95 103.43,176.94 104.14,177.13 104.84,177.17 105.55,176.84 106.25,176.49 106.95,176.49 107.66,176.59 108.36,176.63 109.06,176.73 109.77,176.76 110.47,176.15 111.17,176.3 111.88,176.3 112.58,176.29 113.29,176.17 113.99,175.94 114.69,176.21 115.4,176.34 116.1,176.33 116.8,176.5 117.51,176.22 118.21,175.93 118.91,176.1 119.62,176.37 120.32,176.12 121.03,176.38 121.73,176.64 122.43,176.33 123.14,176.43 123.84,176.54 124.54,176.42 125.25,176.16 125.95,176.04 126.65,176.29 127.36,176.43 128.06,176.25 128.77,175.9 129.47,176.18 130.17,176.28 130.88,175.95 131.58,175.99 132.28,176.21 132.99,176.28 133.69,176.06 134.39,175.9 135.1,175.88 135.8,175.58 136.51,175.42 137.21,175.31 137.91,175.57 138.62,175.47 139.32,175.52 140.02,175.43 140.73,175.48 141.43,175.26 142.13,175.09 142.84,175.63 143.54,175.49 144.25,175.24 144.95,175.47 145.65,175.69 146.36,175.38 147.06,175.52 147.76,175.42 148.47,175.49 149.17,175.2 149.87,175.06 150.58,175.63 151.28,175.83 151.99,175.68 152.69,175.66 153.39,175.45 154.1,175.69 154.8,175.57 155.5,175.86 156.21,175.89 156.91,175.94 157.61,176.06 158.32,175.65 159.02,175.31 159.73,175.24 160.43,175.2 161.13,175.12 161.84,175.05 162.54,175.36 163.24,175.72 163.95,175.63 164.65,175.91 165.35,176.02 166.06,175.52 166.76,175.63 167.47,175.55 168.17,175.33 168.87,175.77 169.58,175.53 170.28,175.62 170.98,175.71 171.69,175.97 172.39,175.91 173.09,175.7 173.8,175.63 174.5,175.41 175.21,175.83 175.91,176.06 176.61,175.66 177.32,175.35 178.02,175.34 178.72,175.39 179.43,175.79 180.13,175.99 180.83,176.04 181.54,175.55 182.24,175.8 182.95,175.87 183.65,175.86 184.35,176.09 185.06,175.59 185.76,175.4 186.46,175.7 187.17,175.98 187.87,175.95 188.57,175.68 189.28,175.75 189.98,175.89 190.69,175.53 191.39,175.5 192.09,175.44 192.8,175.32 193.5,175.5" fill="none" stroke="#1a1a1a" stroke-width="1.8" stroke-linejoin="round" stroke-linecap="round"/>
<polyline points="77.4,183.34 78.1,183 78.81,182.62 79.51,182.7 80.21,182.09 80.92,182.2 81.62,181.71 82.33,181.21 83.03,181.51 83.73,181.04 84.44,181.54 85.14,181.77 85.84,181.94 86.55,181.48 87.25,181.53 87.95,181.32 88.66,181.75 89.36,181.62 90.07,181.24 90.77,180.76 91.47,180.28 92.18,180.26 92.88,179.83 93.58,179.53 94.29,178.78 94.99,178.28 95.69,177.7 96.4,177.72 97.1,177.4 97.81,176.74 98.51,176.96 99.21,176.59 99.92,176.46 100.62,176.14 101.32,176.01 102.03,176.32 102.73,176.03 103.43,175.8 104.14,175.94 104.84,175.88 105.55,176.3 106.25,175.9 106.95,176.37 107.66,175.89 108.36,176.18 109.06,176.07 109.77,175.61 110.47,175.51 111.17,175.25 111.88,175.03 112.58,174.83 113.29,174.94 113.99,175.5 114.69,175.8 115.4,175.9 116.1,175.34 116.8,175.21 117.51,175.64 118.21,175.22 118.91,175.54 119.62,175.38 120.32,175.84 121.03,175.35 121.73,175.73 122.43,175.57 123.14,175.36 123.84,175.16 124.54,175.66 125.25,175.64 125.95,175.36 126.65,175.38 127.36,175.74 128.06,175.37 128.77,175.44 129.47,175.12 130.17,174.97 130.88,175.33 131.58,175.44 132.28,175.09 132.99,174.8 133.69,174.64 134.39,174.94 135.1,174.98 135.8,174.82 136.51,174.66 137.21,174.88 137.91,175.04 138.62,175.18 139.32,175.05 140.02,174.68 140.73,174.41 141.43,174.79 142.13,174.73 142.84,174.94 143.54,174.54 144.25,174.92 144.95,174.74 145.65,175.05 146.36,175.22 147.06,175.02 147.76,174.55 148.47,175.01 149.17,174.9 149.87,175.16 150.58,174.82 151.28,174.59 151.99,174.97 152.69,174.81 153.39,174.57 154.1,174.61 154.8,174.81 155.5,174.45 156.21,174.67 156.91,174.73 157.61,174.81 158.32,174.55 159.02,174.88 159.73,175.12 160.43,175.28 161.13,174.94 161.84,175.08 162.54,174.89 163.24,175.08 163.95,174.65 164.65,175.06 165.35,175.33 166.06,175.11 166.76,175.02 167.47,174.98 168.17,174.97 168.87,174.57 169.58,175.1 170.28,174.8 170.98,174.61 171.69,174.46 172.39,174.5 173.09,174.96 173.8,174.58 174.5,174.45 175.21,174.84 175.91,174.66 176.61,174.43 177.32,174.76 178.02,174.91 178.72,174.95 179.43,175.1 180.13,174.72 180.83,175.12 181.54,175.21 182.24,174.73 182.95,174.56 183.65,174.76 184.35,174.86 185.06,174.75 185.76,174.57 186.46,174.7 187.17,174.56 187.87,174.84 188.57,175.19 189.28,174.82 189.98,174.96 190.69,175.17 191.39,174.82 192.09,175.16 192.8,175.42 193.5,175.12" fill="none" stroke="#111" stroke-width="1.5" stroke-linejoin="round" stroke-linecap="butt" stroke-dasharray="1.2 1.1"/>
<polyline points="77.3,173.04 78,172.43 78.71,171.43 79.41,170.37 80.11,169.81 80.82,168.95 81.52,167.74 82.22,166.6 82.92,165.65 83.63,164.8 84.33,164.34 85.03,163.53 85.74,162.75 86.44,161.96 87.14,161.27 87.85,159.97 88.55,159.32 89.25,158.99 89.95,158.45 90.66,157.3 91.36,156.51 92.06,155.92 92.77,155.07 93.47,154.42 94.17,153.39 94.88,152.81 95.58,152.22 96.28,151.2 96.98,150.43 97.69,150.33 98.39,149.78 99.09,149.28 99.8,148.44 100.5,147.81 101.2,147.2 101.91,146.54 102.61,145.21 103.31,144.66 104.02,143.95 104.72,143.66 105.42,142.95 106.12,142.56 106.83,142.41 107.53,141.85 108.23,141.03 108.94,140.58 109.64,140.04 110.34,139.92 111.05,139.1 111.75,138.46 112.45,138.27 113.15,137.62 113.86,137.49 114.56,137.54 115.26,137.05 115.97,136.45 116.67,136.13 117.37,135.99 118.08,135.72 118.78,135.57 119.48,135.5 120.18,135.59 120.89,135.58 121.59,135.19 122.29,134.79 123,134.28 123.7,134.2 124.4,134.21 125.11,133.86 125.81,133.47 126.51,133.16 127.22,132.48 127.92,132.35 128.62,131.91 129.32,131.6 130.03,131.39 130.73,131.03 131.43,130.6 132.14,130.19 132.84,129.83 133.54,129.74 134.25,129.46 134.95,129.33 135.65,128.69 136.35,128.5 137.06,128.65 137.76,128.12 138.46,128.04 139.17,127.89 139.87,127.57 140.57,127.87 141.28,127.4 141.98,127.46 142.68,126.93 143.38,126.51 144.09,126.66 144.79,126.19 145.49,125.48 146.2,125.18 146.9,124.88 147.6,124.76 148.31,124.12 149.01,123.97 149.71,124.41 150.42,124.43 151.12,123.95 151.82,123.82 152.52,123.73 153.23,123.89 153.93,123.98 154.63,124.61 155.34,125.11 156.04,125.33 156.74,125.76 157.45,125.19 158.15,124.61 158.85,123.79 159.55,123.97 160.26,124.2 160.96,124.58 161.66,124.28 162.37,124.39 163.07,123.46 163.77,123.38 164.48,122.99 165.18,122.53 165.88,122.44 166.58,121.93 167.29,121.58 167.99,121.6 168.69,121.6 169.4,121.31 170.1,120.91 170.8,120.68 171.51,120.49 172.21,120.51 172.91,120.11 173.62,119.91 174.32,119.85 175.02,119.93 175.72,120.22 176.43,120.92 177.13,121.51 177.83,121.72 178.54,121.52 179.24,120.91 179.94,120.52 180.65,120.02 181.35,119.93 182.05,119.71 182.75,119.07 183.46,119.48 184.16,119.19 184.86,119.41 185.57,119.48 186.27,119.57 186.97,119 187.68,118.85 188.38,119.11 189.08,118.51 189.78,118.2 190.49,118.41 191.19,118.43 191.89,118.72 192.6,118.72 193.3,118.5" fill="none" stroke="#0d0d0d" stroke-width="2.6" stroke-linejoin="round" stroke-linecap="round"/>
<line x1="203.5" y1="21.3" x2="218.5" y2="21.3" stroke="#0d0d0d" stroke-width="2.6"/>
<text transform="translate(223,24.5) scale(0.9615,1)" font-size="9.98" text-anchor="start" font-weight="normal" fill="#111" stroke="#111" stroke-width="0.25" >Mn<tspan dx="0.5" dy="-2.9" font-size="7.79">2+</tspan></text>
<line x1="203.5" y1="32.5" x2="218.5" y2="32.5" stroke="#1a1a1a" stroke-width="1.5" stroke-dasharray="1.2 1.1"/>
<text transform="translate(223,35.7) scale(1.0000,1)" font-size="9.60" text-anchor="start" font-weight="normal" fill="#111" stroke="#111" stroke-width="0.25" >3,000</text>
<line x1="203.5" y1="43.7" x2="218.5" y2="43.7" stroke="#bbb" stroke-width="1.2"/>
<text transform="translate(223,46.9) scale(1.0000,1)" font-size="9.60" text-anchor="start" font-weight="normal" fill="#111" stroke="#111" stroke-width="0.25" >1,000</text>
<line x1="203.5" y1="54.9" x2="218.5" y2="54.9" stroke="#111" stroke-width="2.2"/>
<text transform="translate(223,58.1) scale(1.0000,1)" font-size="9.60" text-anchor="start" font-weight="normal" fill="#111" stroke="#111" stroke-width="0.25" >100</text>
<line x1="203.5" y1="66.1" x2="218.5" y2="66.1" stroke="#333" stroke-width="1.6"/>
<text transform="translate(223,69.3) scale(1.0000,1)" font-size="9.60" text-anchor="start" font-weight="normal" fill="#111" stroke="#111" stroke-width="0.25" >10</text>
<line x1="203.5" y1="77.3" x2="218.5" y2="77.3" stroke="#666" stroke-width="1.1"/>
<text transform="translate(223,80.5) scale(1.0000,1)" font-size="9.60" text-anchor="start" font-weight="normal" fill="#111" stroke="#111" stroke-width="0.25" >1</text>
<line x1="203.5" y1="88.5" x2="218.5" y2="88.5" stroke="#999" stroke-width="1.5"/>
<text transform="translate(223,91.7) scale(1.0000,1)" font-size="9.60" text-anchor="start" font-weight="normal" fill="#111" stroke="#111" stroke-width="0.25" >0</text>
<line x1="203.5" y1="119.8" x2="218.5" y2="119.8" stroke="#0d0d0d" stroke-width="2.6"/>
<text transform="translate(223,123) scale(0.9615,1)" font-size="9.98" text-anchor="start" font-weight="normal" fill="#111" stroke="#111" stroke-width="0.25" >Mn<tspan dx="0.5" dy="-2.9" font-size="7.79">2+</tspan></text>
<line x1="203.5" y1="150.8" x2="218.5" y2="150.8" stroke="#333" stroke-width="1.4" stroke-dasharray="1.2 1.1"/>
<text transform="translate(223,154) scale(1.0000,1)" font-size="9.60" text-anchor="start" font-weight="normal" fill="#111" stroke="#111" stroke-width="0.25" >125</text>
<line x1="203.5" y1="162.1" x2="218.5" y2="162.1" stroke="#111" stroke-width="2.2"/>
<text transform="translate(223,165.3) scale(1.0000,1)" font-size="9.60" text-anchor="start" font-weight="normal" fill="#111" stroke="#111" stroke-width="0.25" >12.5</text>
<line x1="203.5" y1="173.3" x2="218.5" y2="173.3" stroke="#444" stroke-width="1.6"/>
<text transform="translate(223,176.5) scale(1.0000,1)" font-size="9.60" text-anchor="start" font-weight="normal" fill="#111" stroke="#111" stroke-width="0.25" >1.25</text>
<line x1="203.5" y1="184.5" x2="218.5" y2="184.5" stroke="#888" stroke-width="1.4"/>
<text transform="translate(223,187.7) scale(1.0000,1)" font-size="9.60" text-anchor="start" font-weight="normal" fill="#111" stroke="#111" stroke-width="0.25" >0</text>
<line x1="307.1" y1="17.2" x2="307.1" y2="130" stroke="#1a1a1a" stroke-width="1.3"/>
<line x1="304.9" y1="129.4" x2="307.1" y2="129.4" stroke="#1a1a1a" stroke-width="1.1"/>
<line x1="304.9" y1="113.43" x2="307.1" y2="113.43" stroke="#1a1a1a" stroke-width="1.1"/>
<line x1="304.9" y1="97.45" x2="307.1" y2="97.45" stroke="#1a1a1a" stroke-width="1.1"/>
<line x1="304.9" y1="81.47" x2="307.1" y2="81.47" stroke="#1a1a1a" stroke-width="1.1"/>
<line x1="304.9" y1="65.5" x2="307.1" y2="65.5" stroke="#1a1a1a" stroke-width="1.1"/>
<line x1="304.9" y1="49.53" x2="307.1" y2="49.53" stroke="#1a1a1a" stroke-width="1.1"/>
<line x1="304.9" y1="33.55" x2="307.1" y2="33.55" stroke="#1a1a1a" stroke-width="1.1"/>
<line x1="304.9" y1="17.58" x2="307.1" y2="17.58" stroke="#1a1a1a" stroke-width="1.1"/>
<text transform="translate(303,131.86) scale(1.0000,1)" font-size="9.60" text-anchor="end" font-weight="normal" fill="#111" stroke="#111" stroke-width="0.25" >0</text>
<text transform="translate(303,99.91) scale(1.0000,1)" font-size="9.60" text-anchor="end" font-weight="normal" fill="#111" stroke="#111" stroke-width="0.25" >100</text>
<text transform="translate(303,67.96) scale(1.0000,1)" font-size="9.60" text-anchor="end" font-weight="normal" fill="#111" stroke="#111" stroke-width="0.25" >200</text>
<text transform="translate(303,36.01) scale(1.0000,1)" font-size="9.60" text-anchor="end" font-weight="normal" fill="#111" stroke="#111" stroke-width="0.25" >300</text>
<line x1="306.5" y1="129.4" x2="390.2" y2="129.4" stroke="#1a1a1a" stroke-width="1.3"/>
<line x1="306.24" y1="129.4" x2="306.24" y2="132" stroke="#1a1a1a" stroke-width="1.1"/>
<line x1="322.8" y1="129.4" x2="322.8" y2="132" stroke="#1a1a1a" stroke-width="1.1"/>
<line x1="339.36" y1="129.4" x2="339.36" y2="132" stroke="#1a1a1a" stroke-width="1.1"/>
<line x1="355.92" y1="129.4" x2="355.92" y2="132" stroke="#1a1a1a" stroke-width="1.1"/>
<line x1="372.48" y1="129.4" x2="372.48" y2="132" stroke="#1a1a1a" stroke-width="1.1"/>
<line x1="389.04" y1="129.4" x2="389.04" y2="132" stroke="#1a1a1a" stroke-width="1.1"/>
<text transform="translate(322.8,141.6) scale(1.0000,1)" font-size="9.60" text-anchor="middle" font-weight="normal" fill="#111" stroke="#111" stroke-width="0.25" >0</text>
<text transform="translate(355.92,141.6) scale(1.0000,1)" font-size="9.60" text-anchor="middle" font-weight="normal" fill="#111" stroke="#111" stroke-width="0.25" >100</text>
<text transform="translate(389.04,141.6) scale(1.0000,1)" font-size="9.60" text-anchor="middle" font-weight="normal" fill="#111" stroke="#111" stroke-width="0.25" >200</text>
<text transform="translate(349.6,154.6) scale(0.9615,1)" font-size="10.40" text-anchor="middle" font-weight="normal" fill="#111" stroke="#111" stroke-width="0.25" >Time (seconds)</text>
<text transform="translate(279.2,73.9) rotate(-90)" font-size="10.2" text-anchor="middle" fill="#111" stroke="#111" stroke-width="0.25">[Ca<tspan dy="-3.8" font-size="8">2+</tspan><tspan dy="3.8">]</tspan><tspan dy="2.4" font-size="8">i</tspan><tspan dy="-2.4"> (nM)</tspan></text>
<polyline points="307.5,108.85 308.21,108.08 308.93,107.94 309.64,108.29 310.35,107.76 311.07,107.61 311.78,108.11 312.5,107.71 313.21,108.92 313.92,108.61 314.64,108.25 315.35,107.26 316.06,107.58 316.78,107.65 317.49,107.96 318.2,108 318.92,108.6 319.63,108.85 320.35,107.85 321.06,107.5 321.77,107.77 322.49,108.56 323.2,107.29" fill="none" stroke="#888" stroke-width="1.4" stroke-linejoin="round" stroke-linecap="round"/>
<polyline points="307.5,108.86 308.21,109.51 308.93,108.3 309.64,108.39 310.35,109.83 311.07,109.81 311.78,109.17 312.5,108.22 313.21,109.71 313.92,109.59 314.64,109.87 315.35,110.26 316.06,110.07 316.78,108.99 317.49,108.17 318.2,108.24 318.92,108.67 319.63,108.7 320.35,107.98 321.06,107.78 321.77,108.64 322.49,108.7 323.2,108.14" fill="none" stroke="#555" stroke-width="1.6" stroke-linejoin="round" stroke-linecap="round"/>
<polyline points="307.5,110.84 308.21,110.33 308.93,108.99 309.64,109.53 310.35,110.45 311.07,109.64 311.78,110.31 312.5,109.02 313.21,109.42 313.92,110.66 314.64,110.39 315.35,110.49 316.06,109.45 316.78,109.83 317.49,109.98 318.2,109.35 318.92,109.98 319.63,109.81 320.35,110.72 321.06,109.95 321.77,109.41 322.49,108.64 323.2,108.51" fill="none" stroke="#222" stroke-width="2.0" stroke-linejoin="round" stroke-linecap="round"/>
<polyline points="307.5,111.35 308.21,110.11 308.93,109.87 309.64,109.99 310.35,110.78 311.07,111.6 311.78,111.34 312.5,111.72 313.21,110.25 313.92,109.87 314.64,111.42 315.35,110.76 316.06,111.4 316.78,110.72 317.49,110.14 318.2,110.18 318.92,109.79 319.63,111.36 320.35,110.95 321.06,110.32 321.77,110.36 322.49,110.19 323.2,109.4" fill="none" stroke="#111" stroke-width="2.2" stroke-linejoin="round" stroke-linecap="round"/>
<polyline points="307.5,112.22 308.21,111.77 308.93,112.5 309.64,111.57 310.35,111.78 311.07,111.07 311.78,110.51 312.5,112.3 313.21,112.52 313.92,111.44 314.64,112.49 315.35,112.5 316.06,111.36 316.78,111.72 317.49,112.49 318.2,111.62 318.92,112.35 319.63,110.96 320.35,110.94 321.06,111.58 321.77,110.61 322.49,110.56 323.2,111.69" fill="none" stroke="#111" stroke-width="1.6" stroke-linejoin="round" stroke-linecap="round"/>
<polyline points="323.2,108.59 323.91,108.8 324.61,108.55 325.32,108.38 326.03,108.43 326.73,108.35 327.44,108.83 328.15,108.63 328.86,108.71 329.56,108.46 330.27,108.62 330.98,108.61 331.68,108.62 332.39,108.41 333.1,108.35 333.8,108.79 334.51,108.71 335.22,108.6 335.93,108.52 336.63,108.54 337.34,108.53 338.05,108.4 338.75,108.75 339.46,108.72 340.17,108.6 340.87,108.93 341.58,108.71 342.29,108.74 343,109.14 343.7,108.9 344.41,109.01 345.12,109.34 345.82,109.5 346.53,109.18 347.24,109.17 347.94,109.42 348.65,109.34 349.36,109.71 350.07,109.41 350.77,109.78 351.48,109.68 352.19,109.47 352.89,109.54 353.6,109.38 354.31,109.7 355.01,109.58 355.72,109.97 356.43,109.98 357.13,109.86 357.84,109.74 358.55,109.95 359.26,109.81 359.96,110.2 360.67,109.92 361.38,110.07 362.08,110.18 362.79,110.08 363.5,110.38 364.2,110.3 364.91,110.46 365.62,110.51 366.33,110.38 367.03,110.4 367.74,110.23 368.45,110.22 369.15,110.69 369.86,110.59 370.57,110.8 371.27,110.55 371.98,110.75 372.69,110.74 373.4,110.85 374.1,110.8 374.81,110.64 375.52,110.75 376.22,110.76 376.93,110.73 377.64,111.13 378.34,111.06 379.05,111.13 379.76,111.52 380.47,111.65 381.17,111.81 381.88,111.9 382.59,111.48 383.29,111.39 384,111.21" fill="none" stroke="#999" stroke-width="1.7" stroke-linejoin="round" stroke-linecap="round"/>
<polyline points="323.4,109.33 324,107.95 324.61,105.2 325.21,104.16 325.81,102.78 326.41,100.45 327.02,95.85 327.62,96.01 328.22,90.76 328.83,89.07 329.43,84.04 330.03,80.79 330.64,81.98 331.24,78.67 331.84,76.08 332.44,70.54 333.05,68.29 333.65,66.6 334.25,64.52 334.86,63.04 335.46,61.62 336.06,58.26 336.67,57.84 337.27,58.6 337.87,55.73 338.47,58.03 339.08,56.08 339.68,56.38 340.28,53.87 340.89,54.33 341.49,55.1 342.09,53.18 342.7,51.2 343.3,54.88 343.9,54.45 344.5,52.02 345.11,50.73 345.71,54.32 346.31,53.01 346.92,50.25 347.52,51 348.12,50.21 348.72,53.19 349.33,50.34 349.93,53.83 350.53,53.65 351.14,51.16 351.74,54.55 352.34,53.73 352.95,55.94 353.55,56.9 354.15,54.94 354.75,54.57 355.36,59.04 355.96,57.13 356.56,59.98 357.17,59.38 357.77,60.11 358.37,60.89 358.98,60.23 359.58,59.69 360.18,58.12 360.78,61.37 361.39,60.39 361.99,61.05 362.59,63.24 363.2,59.81 363.8,63.01 364.4,59.96 365,63.28 365.61,64.03 366.21,61.85 366.81,63.55 367.42,65.88 368.02,64.72 368.62,64.66 369.23,63.68 369.83,63.17 370.43,64.93 371.03,65.55 371.64,64.96 372.24,65.87 372.84,65.5 373.45,68.58 374.05,68.85 374.65,67.28 375.26,67.74 375.86,69.44 376.46,69.55 377.06,72.26 377.67,70 378.27,70.19 378.87,73.33 379.48,70.34 380.08,72.72 380.68,72.08 381.29,74.73 381.89,73.92 382.49,75.33 383.09,73.02 383.7,75.74 384.3,75.86" fill="none" stroke="#999" stroke-width="1.1" stroke-linejoin="round" stroke-linecap="round"/>
<polyline points="323.4,108.45 324.41,106.65 325.43,104.08 326.44,98.89 327.46,94.89 328.47,90.02 329.49,84.82 330.5,80.03 331.52,76.13 332.53,71.92 333.55,68.81 334.56,64.74 335.58,61.3 336.59,58.58 337.61,57.5 338.62,56.09 339.64,54.96 340.65,54.21 341.67,53.49 342.69,54.16 343.7,53.56 344.71,52.4 345.73,52.96 346.75,53.03 347.76,52.2 348.77,51.31 349.79,51.77 350.81,52.67 351.82,53.31 352.83,54.75 353.85,55.02 354.87,57.11 355.88,57.61 356.89,58.44 357.91,59.7 358.93,59.82 359.94,59.74 360.95,60.19 361.97,60.5 362.99,60.81 364,62.25 365.01,62.8 366.03,62.57 367.05,63.06 368.06,64.29 369.07,65.2 370.09,65.94 371.11,65.57 372.12,67.04 373.13,67.83 374.15,68.45 375.17,68.64 376.18,69.19 377.19,70.77 378.21,70.84 379.23,71.64 380.24,72.61 381.25,73.08 382.27,74.41 383.29,74.34 384.3,74.79" fill="none" stroke="#929292" stroke-width="2.9" stroke-linejoin="round" stroke-linecap="round"/>
<polyline points="323.6,109.55 324.1,107.67 324.61,105.6 325.11,102.27 325.61,99.1 326.12,95.88 326.62,92.25 327.12,88.78 327.63,85.11 328.13,81.72 328.63,78.58 329.14,78.72 329.64,80.05 330.14,80.81 330.65,81.91 331.15,83.37 331.65,83.93 332.16,84.67 332.66,85.68 333.16,86.25 333.67,87.29 334.17,87.59 334.67,88.72 335.18,89.64 335.68,90.36 336.18,90.61 336.69,90.89 337.19,91.56 337.69,92.04 338.2,92.46 338.7,92.86 339.2,93.39 339.71,94.08 340.21,94.8 340.71,95.47 341.22,95.52 341.72,95.93 342.22,96.52 342.73,97.18 343.23,97.63 343.73,98 344.24,98.38 344.74,99.03 345.24,99.74 345.75,100.76 346.25,101.47 346.75,101.84 347.26,102.26 347.76,102.61 348.26,102.67 348.77,103 349.27,102.74 349.77,103.24 350.28,103.59 350.78,103.67 351.28,104.08 351.79,104.69 352.29,104.75 352.79,105.03 353.3,105.02 353.8,105.18 354.31,105.8 354.81,105.57 355.31,105.7 355.82,106.27 356.32,106.5 356.82,106.45 357.33,106.88 357.83,106.93 358.33,107.18 358.84,107.23 359.34,107.41 359.84,107.59 360.35,107.61 360.85,107.47 361.35,107.51 361.86,108.14 362.36,108.24 362.86,108.01 363.37,108.52 363.87,108.37 364.37,108.22 364.88,108.54 365.38,108.54 365.88,108.77 366.39,109 366.89,108.91 367.39,109.19 367.9,109.03 368.4,109.31 368.9,109.56 369.41,109.35 369.91,109.56 370.41,109.45 370.92,109.74 371.42,110.26 371.92,110.33 372.43,110.51 372.93,110.66 373.43,110.28 373.94,110.8 374.44,110.88 374.94,110.49 375.45,110.88 375.95,110.78 376.45,110.59 376.96,111.13 377.46,111.14 377.96,111.34 378.47,110.98 378.97,111.33 379.47,110.98 379.98,110.98 380.48,111.12 380.98,110.95 381.49,111.34 381.99,111.28 382.49,111.35 383,111.74 383.5,111.75" fill="none" stroke="#111" stroke-width="2.0" stroke-linejoin="round" stroke-linecap="round"/>
<polyline points="322.9,110 323.4,80 324.6,38.1 326.5,27 328.6,23.7 330.5,27.5 332.1,34.6 335.6,43.8 339.6,53.1 342.4,60 348,72.7 354.3,85.5 360.7,96.6 367.1,105.4 375,109.4 383.5,112.3" fill="none" stroke="#0d0d0d" stroke-width="3.1" stroke-linejoin="round" stroke-linecap="round"/>
<circle cx="383.6" cy="112.4" r="1.6" fill="#111"/>
<line x1="344.7" y1="9.6" x2="356" y2="9.6" stroke="#8a8a8a" stroke-width="2.6"/>
<text transform="translate(359.4,12) scale(0.9615,1)" font-size="9.98" text-anchor="start" font-weight="normal" fill="#111" stroke="#111" stroke-width="0.25" >Thapsigargin</text>
<line x1="344.7" y1="21.1" x2="356" y2="21.1" stroke="#0d0d0d" stroke-width="2.6"/>
<text transform="translate(359.4,23.5) scale(0.9615,1)" font-size="9.98" text-anchor="start" font-weight="normal" fill="#111" stroke="#111" stroke-width="0.25" >fMLP</text>
<line x1="344.7" y1="32.7" x2="356" y2="32.7" stroke="#222" stroke-width="1.6"/>
<text transform="translate(359.4,35.1) scale(0.9615,1)" font-size="9.98" text-anchor="start" font-weight="normal" fill="#111" stroke="#111" stroke-width="0.25" >SDF-1</text>
<line x1="344.7" y1="44.3" x2="356" y2="44.3" stroke="#999" stroke-width="1.3"/>
<text transform="translate(359.4,46.7) scale(0.9615,1)" font-size="9.98" text-anchor="start" font-weight="normal" fill="#111" stroke="#111" stroke-width="0.25" >Buffer</text>
<line x1="443.1" y1="30.6" x2="443.1" y2="129.5" stroke="#1a1a1a" stroke-width="1.3"/>
<line x1="441.1" y1="128.9" x2="443.1" y2="128.9" stroke="#1a1a1a" stroke-width="1.1"/>
<line x1="441.1" y1="122.45" x2="443.1" y2="122.45" stroke="#1a1a1a" stroke-width="1.1"/>
<line x1="441.1" y1="116.01" x2="443.1" y2="116.01" stroke="#1a1a1a" stroke-width="1.1"/>
<line x1="441.1" y1="109.56" x2="443.1" y2="109.56" stroke="#1a1a1a" stroke-width="1.1"/>
<line x1="441.1" y1="103.11" x2="443.1" y2="103.11" stroke="#1a1a1a" stroke-width="1.1"/>
<line x1="441.1" y1="96.67" x2="443.1" y2="96.67" stroke="#1a1a1a" stroke-width="1.1"/>
<line x1="441.1" y1="90.22" x2="443.1" y2="90.22" stroke="#1a1a1a" stroke-width="1.1"/>
<line x1="441.1" y1="83.77" x2="443.1" y2="83.77" stroke="#1a1a1a" stroke-width="1.1"/>
<line x1="441.1" y1="77.32" x2="443.1" y2="77.32" stroke="#1a1a1a" stroke-width="1.1"/>
<line x1="441.1" y1="70.88" x2="443.1" y2="70.88" stroke="#1a1a1a" stroke-width="1.1"/>
<line x1="441.1" y1="64.43" x2="443.1" y2="64.43" stroke="#1a1a1a" stroke-width="1.1"/>
<line x1="441.1" y1="57.98" x2="443.1" y2="57.98" stroke="#1a1a1a" stroke-width="1.1"/>
<line x1="441.1" y1="51.54" x2="443.1" y2="51.54" stroke="#1a1a1a" stroke-width="1.1"/>
<line x1="441.1" y1="45.09" x2="443.1" y2="45.09" stroke="#1a1a1a" stroke-width="1.1"/>
<line x1="441.1" y1="38.64" x2="443.1" y2="38.64" stroke="#1a1a1a" stroke-width="1.1"/>
<line x1="441.1" y1="32.19" x2="443.1" y2="32.19" stroke="#1a1a1a" stroke-width="1.1"/>
<text transform="translate(438.6,131.36) scale(1.0000,1)" font-size="9.60" text-anchor="end" font-weight="normal" fill="#111" stroke="#111" stroke-width="0.25" >0</text>
<text transform="translate(438.6,99.12) scale(1.0000,1)" font-size="9.60" text-anchor="end" font-weight="normal" fill="#111" stroke="#111" stroke-width="0.25" >50</text>
<text transform="translate(438.6,66.89) scale(1.0000,1)" font-size="9.60" text-anchor="end" font-weight="normal" fill="#111" stroke="#111" stroke-width="0.25" >100</text>
<text transform="translate(438.6,34.65) scale(1.0000,1)" font-size="9.60" text-anchor="end" font-weight="normal" fill="#111" stroke="#111" stroke-width="0.25" >150</text>
<line x1="442.5" y1="128.9" x2="510.4" y2="128.9" stroke="#1a1a1a" stroke-width="1.3"/>
<line x1="445.8" y1="128.9" x2="445.8" y2="131.3" stroke="#1a1a1a" stroke-width="1.0"/>
<line x1="455.36" y1="128.9" x2="455.36" y2="131.3" stroke="#1a1a1a" stroke-width="1.0"/>
<line x1="460.95" y1="128.9" x2="460.95" y2="131.3" stroke="#1a1a1a" stroke-width="1.0"/>
<line x1="464.92" y1="128.9" x2="464.92" y2="131.3" stroke="#1a1a1a" stroke-width="1.0"/>
<line x1="467.99" y1="128.9" x2="467.99" y2="131.3" stroke="#1a1a1a" stroke-width="1.0"/>
<line x1="470.51" y1="128.9" x2="470.51" y2="131.3" stroke="#1a1a1a" stroke-width="1.0"/>
<line x1="472.63" y1="128.9" x2="472.63" y2="131.3" stroke="#1a1a1a" stroke-width="1.0"/>
<line x1="474.47" y1="128.9" x2="474.47" y2="131.3" stroke="#1a1a1a" stroke-width="1.0"/>
<line x1="476.1" y1="128.9" x2="476.1" y2="131.3" stroke="#1a1a1a" stroke-width="1.0"/>
<line x1="477.55" y1="128.9" x2="477.55" y2="131.3" stroke="#1a1a1a" stroke-width="1.0"/>
<line x1="487.11" y1="128.9" x2="487.11" y2="131.3" stroke="#1a1a1a" stroke-width="1.0"/>
<line x1="492.7" y1="128.9" x2="492.7" y2="131.3" stroke="#1a1a1a" stroke-width="1.0"/>
<line x1="496.67" y1="128.9" x2="496.67" y2="131.3" stroke="#1a1a1a" stroke-width="1.0"/>
<line x1="499.74" y1="128.9" x2="499.74" y2="131.3" stroke="#1a1a1a" stroke-width="1.0"/>
<line x1="502.26" y1="128.9" x2="502.26" y2="131.3" stroke="#1a1a1a" stroke-width="1.0"/>
<line x1="504.38" y1="128.9" x2="504.38" y2="131.3" stroke="#1a1a1a" stroke-width="1.0"/>
<line x1="506.22" y1="128.9" x2="506.22" y2="131.3" stroke="#1a1a1a" stroke-width="1.0"/>
<line x1="507.85" y1="128.9" x2="507.85" y2="131.3" stroke="#1a1a1a" stroke-width="1.0"/>
<line x1="509.3" y1="128.9" x2="509.3" y2="131.3" stroke="#1a1a1a" stroke-width="1.0"/>
<text transform="translate(445.8,141.4) scale(1.0000,1)" font-size="9.60" text-anchor="middle" font-weight="normal" fill="#111" stroke="#111" stroke-width="0.25" >0.01</text>
<text transform="translate(477.55,141.4) scale(1.0000,1)" font-size="9.60" text-anchor="middle" font-weight="normal" fill="#111" stroke="#111" stroke-width="0.25" >0.1</text>
<text transform="translate(509.3,141.4) scale(1.0000,1)" font-size="9.60" text-anchor="middle" font-weight="normal" fill="#111" stroke="#111" stroke-width="0.25" >1</text>
<text transform="translate(476.9,155.2) scale(0.9615,1)" font-size="10.40" text-anchor="middle" font-weight="normal" fill="#111" stroke="#111" stroke-width="0.25" >[U73122] (&#956;M)</text>
<text transform="translate(417.2,80.1) rotate(-90)" font-size="9.8" text-anchor="middle" fill="#111" stroke="#111" stroke-width="0.25">Relative Peak Ca<tspan dy="-3.8" font-size="7.6">2+</tspan><tspan dy="3.8"> Flux</tspan></text>
<path d="M445.6,41.2 L460.9,36.6 C466,38 471,44.5 477.6,46.4 L492.7,51.6 L509.3,121.5" fill="none" stroke="#111" stroke-width="1.5"/>
<circle cx="445.6" cy="41.2" r="2.2" fill="#111"/>
<circle cx="460.9" cy="36.6" r="2.2" fill="#111"/>
<circle cx="477.6" cy="46.4" r="2.2" fill="#111"/>
<circle cx="492.7" cy="51.6" r="2.2" fill="#111"/>
<circle cx="509.3" cy="121.5" r="2.2" fill="#111"/>
<line x1="26.8" y1="264.4" x2="26.8" y2="354.4" stroke="#1a1a1a" stroke-width="1.3"/>
<line x1="24.6" y1="353.8" x2="26.8" y2="353.8" stroke="#1a1a1a" stroke-width="1.1"/>
<line x1="24.6" y1="326.3" x2="26.8" y2="326.3" stroke="#1a1a1a" stroke-width="1.1"/>
<line x1="24.6" y1="298.8" x2="26.8" y2="298.8" stroke="#1a1a1a" stroke-width="1.1"/>
<line x1="24.6" y1="271.3" x2="26.8" y2="271.3" stroke="#1a1a1a" stroke-width="1.1"/>
<text transform="translate(20.6,356.26) scale(1.0000,1)" font-size="9.60" text-anchor="end" font-weight="normal" fill="#111" stroke="#111" stroke-width="0.25" >0</text>
<text transform="translate(20.6,328.76) scale(1.0000,1)" font-size="9.60" text-anchor="end" font-weight="normal" fill="#111" stroke="#111" stroke-width="0.25" >1</text>
<text transform="translate(20.6,301.26) scale(1.0000,1)" font-size="9.60" text-anchor="end" font-weight="normal" fill="#111" stroke="#111" stroke-width="0.25" >2</text>
<text transform="translate(20.6,273.76) scale(1.0000,1)" font-size="9.60" text-anchor="end" font-weight="normal" fill="#111" stroke="#111" stroke-width="0.25" >3</text>
<line x1="26.2" y1="353.8" x2="131.2" y2="353.8" stroke="#1a1a1a" stroke-width="1.3"/>
<line x1="26.35" y1="353.8" x2="26.35" y2="356.4" stroke="#1a1a1a" stroke-width="1.1"/>
<line x1="39.32" y1="353.8" x2="39.32" y2="356.4" stroke="#1a1a1a" stroke-width="1.1"/>
<line x1="52.3" y1="353.8" x2="52.3" y2="356.4" stroke="#1a1a1a" stroke-width="1.1"/>
<line x1="65.27" y1="353.8" x2="65.27" y2="356.4" stroke="#1a1a1a" stroke-width="1.1"/>
<line x1="78.25" y1="353.8" x2="78.25" y2="356.4" stroke="#1a1a1a" stroke-width="1.1"/>
<line x1="91.22" y1="353.8" x2="91.22" y2="356.4" stroke="#1a1a1a" stroke-width="1.1"/>
<line x1="104.2" y1="353.8" x2="104.2" y2="356.4" stroke="#1a1a1a" stroke-width="1.1"/>
<line x1="117.17" y1="353.8" x2="117.17" y2="356.4" stroke="#1a1a1a" stroke-width="1.1"/>
<line x1="130.15" y1="353.8" x2="130.15" y2="356.4" stroke="#1a1a1a" stroke-width="1.1"/>
<text transform="translate(52.3,367.2) scale(1.0000,1)" font-size="9.60" text-anchor="middle" font-weight="normal" fill="#111" stroke="#111" stroke-width="0.25" >0</text>
<text transform="translate(78.25,367.2) scale(1.0000,1)" font-size="9.60" text-anchor="middle" font-weight="normal" fill="#111" stroke="#111" stroke-width="0.25" >1</text>
<text transform="translate(104.2,367.2) scale(1.0000,1)" font-size="9.60" text-anchor="middle" font-weight="normal" fill="#111" stroke="#111" stroke-width="0.25" >2</text>
<text transform="translate(130.15,367.2) scale(1.0000,1)" font-size="9.60" text-anchor="middle" font-weight="normal" fill="#111" stroke="#111" stroke-width="0.25" >3</text>
<text transform="translate(85,375.4) scale(0.9615,1)" font-size="10.40" text-anchor="middle" font-weight="normal" fill="#111" stroke="#111" stroke-width="0.25" >Time (minutes)</text>
<text transform="translate(7.8,308.2) rotate(-90)" font-size="9.8" text-anchor="middle" fill="#111" stroke="#111" stroke-width="0.25">LDV-FITC Fluorescence</text>
<polyline points="27.8,326.7 29.5,325.6 31.6,325.1 33.2,326 34.8,326.4 37.3,325.4 39.9,324.8 41.5,325.4 43.1,325.1 44.8,324.3 46.3,323.9 48.2,325.8" fill="none" stroke="#888" stroke-width="1.2" stroke-linejoin="round" stroke-linecap="round"/>
<polyline points="27.8,327.7 29.7,331.8 31,329 32.3,328.3 33.6,331 34.8,332.5 36.4,331.5 38,330.9 39.6,330.8 41.2,330.2 42.5,329 43.7,327.7 44.7,328.6 45.7,328.6 47,327.6 48.5,327.1" fill="none" stroke="#111" stroke-width="2.4" stroke-linejoin="round" stroke-linecap="round"/>
<polyline points="57.2,322.34 57.8,321.07 58.4,320.3 59,318.9 59.61,318.23 60.21,317.22 60.81,315.27 61.41,314.84 62.01,313.49 62.61,313.02 63.22,312.1 63.82,311.37 64.42,309.51 65.02,308.42 65.62,307.79 66.22,307.08 66.83,305.74 67.43,303.59 68.03,302.91 68.63,301.21 69.23,300.57 69.83,299.98 70.44,298.08 71.04,297.87 71.64,296.7 72.24,295 72.84,293.57 73.44,292.4 74.05,291.59 74.65,289.98 75.25,287.85 75.85,286.07 76.45,284.64 77.05,284.15 77.66,282.14 78.26,281.03 78.86,279.5 79.46,279.23 80.06,278.21 80.66,277.06 81.27,277.21 81.87,276.27 82.47,275.68 83.07,275.15 83.67,274.79 84.27,273.28 84.88,273.07 85.48,272.54 86.08,272.66 86.68,273 87.28,272.8 87.88,271.47 88.49,271.07 89.09,271.62 89.69,271.44 90.29,270.88 90.89,270.7 91.49,270.08 92.1,270.71 92.7,270.15 93.3,270.52 93.9,270.14 94.5,269.15 95.1,269.07 95.71,268.7 96.31,269.36 96.91,268.97 97.51,267.92 98.11,267.61 98.71,267.61 99.32,267.59 99.92,267.56 100.52,267.12 101.12,266.77 101.72,266.37 102.32,267.45 102.93,267.74 103.53,267.69 104.13,268.59 104.73,269.9 105.33,269.26 105.93,269.46 106.54,270.51 107.14,270.54 107.74,270.82 108.34,271.48 108.94,271.38 109.54,271.79 110.15,271.91 110.75,272.58 111.35,272.87 111.95,271.68 112.55,272.09 113.15,272.55 113.76,272.62 114.36,272.28 114.96,271.79 115.56,271.45 116.16,270.78 116.76,270.28 117.37,271.31 117.97,272.44 118.57,273.44 119.17,273.96 119.77,274.18 120.37,275.45 120.98,275.59 121.58,275.13 122.18,275.04 122.78,274.5 123.38,274.5 123.98,274.17 124.59,273.47 125.19,273.6 125.79,273.72 126.39,274.73 126.99,274.38 127.59,274.17 128.2,273.99 128.8,273.97 129.4,274.17 130,273.99" fill="none" stroke="#808080" stroke-width="1.5" stroke-linejoin="round" stroke-linecap="round"/>
<polyline points="57.6,330.82 58.2,332.67 58.81,333.25 59.41,331.31 60.01,328.34 60.62,324.9 61.22,322.85 61.82,321.46 62.43,320.54 63.03,319.46 63.63,318.9 64.24,317.79 64.84,317.45 65.44,315.92 66.05,315.66 66.65,314.51 67.25,312.87 67.86,311.91 68.46,311.65 69.06,311.6 69.67,310.17 70.27,309.78 70.87,308.65 71.48,308.38 72.08,306.65 72.68,306.17 73.29,306.31 73.89,305.13 74.49,304.39 75.1,303.49 75.7,303.06 76.3,302.81 76.91,303.16 77.51,302.37 78.11,302.17 78.72,301.62 79.32,301.79 79.92,301.98 80.53,301.28 81.13,300.06 81.73,300.05 82.34,299.98 82.94,299.07 83.54,297.68 84.15,297.89 84.75,297.66 85.35,296.46 85.96,295.5 86.56,295.64 87.16,296.3 87.77,297.12 88.37,297.18 88.97,297.73 89.58,297.05 90.18,297.15 90.78,297.91 91.39,298.14 91.99,298.09 92.59,298.81 93.2,298.86 93.8,298.8 94.4,299.58 95.01,299.61 95.61,300.74 96.21,300.98 96.82,301.58 97.42,302.23 98.02,302.26 98.63,302.88 99.23,302.76 99.83,304.3 100.44,304.58 101.04,305.57 101.64,304.95 102.25,306 102.85,306.9 103.45,307.05 104.06,307.2 104.66,307.76 105.26,308.34 105.87,309.8 106.47,309.74 107.07,311.15 107.68,311.34 108.28,311.84 108.88,312.35 109.49,312.75 110.09,313.31 110.69,313.7 111.3,313.74 111.9,314.61 112.5,314.5 113.11,315.4 113.71,316.03 114.31,316.54 114.92,316.34 115.52,317.22 116.12,317.88 116.73,317.45 117.33,317.19 117.93,317.58 118.54,318.39 119.14,317.62 119.74,317.34 120.35,318.02 120.95,318.59 121.55,319.05 122.16,318.73 122.76,319.62 123.36,319 123.97,319.72 124.57,319.18 125.17,319.1 125.78,319.39 126.38,319.54 126.98,320.36 127.59,320.85 128.19,320.65 128.79,321.8 129.4,321.52 130,321.3" fill="none" stroke="#111" stroke-width="1.6" stroke-linejoin="round" stroke-linecap="round"/>
<polyline points="56.1,331.38 56.7,332.74 57.31,334.12 57.91,334.51 58.52,335.16 59.12,335.91 59.72,335.45 60.33,335.97 60.93,335.48 61.54,335.38 62.14,334.99 62.74,335.28 63.35,334.82 63.95,334.37 64.56,334.73 65.16,333.94 65.76,334.21 66.37,333.26 66.97,333.29 67.58,332.82 68.18,333.14 68.78,332.32 69.39,332.51 69.99,332.29 70.6,332.74 71.2,332.89 71.8,332.64 72.41,332.21 73.01,332.19 73.62,332.24 74.22,332.44 74.83,332.54 75.43,333.03 76.03,334.24 76.64,334.74 77.24,334.48 77.85,334.8 78.45,333.53 79.05,333.02 79.66,332.13 80.26,332.65 80.87,332.84 81.47,332.23 82.07,332.56 82.68,332.73 83.28,332.19 83.89,332.09 84.49,332.24 85.09,332.73 85.7,332.09 86.3,332.44 86.91,332.29 87.51,331.84 88.11,331.61 88.72,331.75 89.32,331.12 89.93,332.17 90.53,332.73 91.13,334.06 91.74,334.93 92.34,334.33 92.95,334.25 93.55,333.48 94.15,331.71 94.76,330.51 95.36,330.4 95.97,331.74 96.57,331.66 97.17,333.12 97.78,332.97 98.38,333.54 98.99,333.23 99.59,333.52 100.19,334.43 100.8,334.18 101.4,334.27 102.01,334.47 102.61,333.71 103.21,333.13 103.82,332.84 104.42,331.86 105.03,332.05 105.63,333.04 106.23,333.51 106.84,333.07 107.44,333.37 108.05,333 108.65,332.89 109.25,332.34 109.86,332.01 110.46,332.98 111.07,332.45 111.67,332.78 112.28,331.97 112.88,332.09 113.48,331.76 114.09,331.95 114.69,331.71 115.3,332.16 115.9,331.7 116.5,332.2 117.11,332.04 117.71,331.5 118.32,331.55 118.92,331.7 119.52,332.35 120.13,332.49 120.73,333.06 121.34,334.57 121.94,335.1 122.54,334.99 123.15,334.42 123.75,334.1 124.36,334.06 124.96,333.83 125.56,333.77 126.17,334.36 126.77,334.55 127.38,334.85 127.98,334.77 128.58,334.15 129.19,334.01 129.79,333.15 130.4,332.2 131,331.78" fill="none" stroke="#0d0d0d" stroke-width="2.6" stroke-linejoin="round" stroke-linecap="round"/>
<text transform="translate(146.6,291.2) scale(0.9615,1)" font-size="9.98" text-anchor="start" font-weight="normal" fill="#111" stroke="#111" stroke-width="0.25" >fMLP +</text>
<line x1="145.2" y1="302.7" x2="157.3" y2="302.7" stroke="#888" stroke-width="1.1"/>
<text transform="translate(162.8,306.1) scale(0.9615,1)" font-size="9.98" text-anchor="start" font-weight="normal" fill="#111" stroke="#111" stroke-width="0.25" >DMSO</text>
<line x1="145.2" y1="317" x2="157.3" y2="317" stroke="#111" stroke-width="1.6"/>
<text transform="translate(162.8,320.4) scale(0.9615,1)" font-size="9.98" text-anchor="start" font-weight="normal" fill="#111" stroke="#111" stroke-width="0.25" >U73122 (0.3 &#956;M)</text>
<line x1="145.2" y1="331.2" x2="157.3" y2="331.2" stroke="#0d0d0d" stroke-width="2.8"/>
<text transform="translate(162.8,334.6) scale(0.9615,1)" font-size="9.98" text-anchor="start" font-weight="normal" fill="#111" stroke="#111" stroke-width="0.25" >U73122 (1 &#956;M)</text>
<line x1="275.3" y1="243.6" x2="275.3" y2="354.8" stroke="#1a1a1a" stroke-width="1.3"/>
<line x1="273.1" y1="354.2" x2="275.3" y2="354.2" stroke="#1a1a1a" stroke-width="1.1"/>
<line x1="273.1" y1="332.25" x2="275.3" y2="332.25" stroke="#1a1a1a" stroke-width="1.1"/>
<line x1="273.1" y1="310.3" x2="275.3" y2="310.3" stroke="#1a1a1a" stroke-width="1.1"/>
<line x1="273.1" y1="288.35" x2="275.3" y2="288.35" stroke="#1a1a1a" stroke-width="1.1"/>
<line x1="273.1" y1="266.4" x2="275.3" y2="266.4" stroke="#1a1a1a" stroke-width="1.1"/>
<line x1="273.1" y1="244.45" x2="275.3" y2="244.45" stroke="#1a1a1a" stroke-width="1.1"/>
<text transform="translate(268.8,356.66) scale(1.0000,1)" font-size="9.60" text-anchor="end" font-weight="normal" fill="#111" stroke="#111" stroke-width="0.25" >0</text>
<text transform="translate(268.8,334.71) scale(1.0000,1)" font-size="9.60" text-anchor="end" font-weight="normal" fill="#111" stroke="#111" stroke-width="0.25" >1</text>
<text transform="translate(268.8,312.76) scale(1.0000,1)" font-size="9.60" text-anchor="end" font-weight="normal" fill="#111" stroke="#111" stroke-width="0.25" >2</text>
<text transform="translate(268.8,290.81) scale(1.0000,1)" font-size="9.60" text-anchor="end" font-weight="normal" fill="#111" stroke="#111" stroke-width="0.25" >3</text>
<text transform="translate(268.8,268.86) scale(1.0000,1)" font-size="9.60" text-anchor="end" font-weight="normal" fill="#111" stroke="#111" stroke-width="0.25" >4</text>
<text transform="translate(268.8,243.91) scale(1.0000,1)" font-size="9.60" text-anchor="end" font-weight="normal" fill="#111" stroke="#111" stroke-width="0.25" >5</text>
<line x1="274.7" y1="354.2" x2="379.2" y2="354.2" stroke="#1a1a1a" stroke-width="1.3"/>
<line x1="274.85" y1="354.2" x2="274.85" y2="356.8" stroke="#1a1a1a" stroke-width="1.1"/>
<line x1="287.82" y1="354.2" x2="287.82" y2="356.8" stroke="#1a1a1a" stroke-width="1.1"/>
<line x1="300.8" y1="354.2" x2="300.8" y2="356.8" stroke="#1a1a1a" stroke-width="1.1"/>
<line x1="313.78" y1="354.2" x2="313.78" y2="356.8" stroke="#1a1a1a" stroke-width="1.1"/>
<line x1="326.75" y1="354.2" x2="326.75" y2="356.8" stroke="#1a1a1a" stroke-width="1.1"/>
<line x1="339.73" y1="354.2" x2="339.73" y2="356.8" stroke="#1a1a1a" stroke-width="1.1"/>
<line x1="352.7" y1="354.2" x2="352.7" y2="356.8" stroke="#1a1a1a" stroke-width="1.1"/>
<line x1="365.68" y1="354.2" x2="365.68" y2="356.8" stroke="#1a1a1a" stroke-width="1.1"/>
<line x1="378.65" y1="354.2" x2="378.65" y2="356.8" stroke="#1a1a1a" stroke-width="1.1"/>
<text transform="translate(300.8,366.4) scale(1.0000,1)" font-size="9.60" text-anchor="middle" font-weight="normal" fill="#111" stroke="#111" stroke-width="0.25" >0</text>
<text transform="translate(326.75,366.4) scale(1.0000,1)" font-size="9.60" text-anchor="middle" font-weight="normal" fill="#111" stroke="#111" stroke-width="0.25" >1</text>
<text transform="translate(352.7,366.4) scale(1.0000,1)" font-size="9.60" text-anchor="middle" font-weight="normal" fill="#111" stroke="#111" stroke-width="0.25" >2</text>
<text transform="translate(378.65,366.4) scale(1.0000,1)" font-size="9.60" text-anchor="middle" font-weight="normal" fill="#111" stroke="#111" stroke-width="0.25" >3</text>
<text transform="translate(301.4,257.5) scale(0.9615,1)" font-size="9.98" text-anchor="start" font-weight="normal" fill="#111" stroke="#111" stroke-width="0.25" >DMSO</text>
<text transform="translate(254.8,307.6) rotate(-90)" font-size="9.8" text-anchor="middle" fill="#111" stroke="#111" stroke-width="0.25">LDV-FITC Fluorescence</text>
<polyline points="276.8,332.01 277.52,332.46 278.24,332.63 278.96,332.56 279.67,333.33 280.39,332.72 281.11,333.41 281.83,334.02 282.55,334.09 283.27,334.38 283.99,335.11 284.7,334.79 285.42,335.03 286.14,335.03 286.86,334.52 287.58,334.56 288.3,334.12 289.01,333.97 289.73,333.9 290.45,333.83 291.17,333.33 291.89,333.35 292.61,333.16 293.33,332.64 294.04,332.74 294.76,332.31 295.48,332.71 296.2,332.31" fill="none" stroke="#888" stroke-width="2.2" stroke-linejoin="round" stroke-linecap="round"/>
<polyline points="280.9,326.95 281.63,327.19 282.36,327.44 283.09,327.56 283.81,327.77 284.54,328.7 285.27,329.09 286,329.53 286.73,329.76 287.46,329.71 288.19,329.17 288.91,328.77 289.64,328.9 290.37,328.64 291.1,328.61 291.83,328.65 292.56,328.63 293.29,328.57 294.01,327.99 294.74,327.95 295.47,328.21 296.2,328.28" fill="none" stroke="#111" stroke-width="2.6" stroke-linejoin="round" stroke-linecap="round"/>
<polyline points="305.4,335.62 306.11,335.68 306.82,335.98 307.52,335.97 308.23,336.49 308.94,337.4 309.65,337.07 310.36,336.76 311.06,336.01 311.77,336.17 312.48,337.04 313.19,336.74 313.9,336.18 314.6,335.95 315.31,336.28 316.02,336.22 316.73,335.17 317.44,335.58 318.14,335.22 318.85,335.33 319.56,334.91 320.27,334.97 320.98,334.92 321.68,334.95 322.39,334.38 323.1,334.47 323.81,335.05 324.52,334.42 325.22,334.39 325.93,335.2 326.64,334.74 327.35,334.66 328.06,334.49 328.76,335.33 329.47,334.42 330.18,334.96 330.89,335.45 331.6,334.57 332.3,334.62 333.01,335.19 333.72,335.07 334.43,334.64 335.14,333.98 335.84,334.38 336.55,334.37 337.26,334.87 337.97,334.37 338.68,334.37 339.38,334.72 340.09,335.06 340.8,334.43" fill="none" stroke="#999" stroke-width="1.3" stroke-linejoin="round" stroke-linecap="round"/>
<polyline points="304.5,333.46 305.21,332.9 305.91,332.64 306.62,331.13 307.32,331.11 308.03,330.26 308.73,329.06 309.44,328.54 310.15,327.44 310.85,326.27 311.56,326.23 312.26,325.23 312.97,325.22 313.68,325.12 314.38,325.53 315.09,325.41 315.79,324.41 316.5,324.75 317.2,324.63 317.91,324.53 318.62,324.9 319.32,324.43 320.03,324.3 320.73,324.71 321.44,324.21 322.15,324.12 322.85,324.15 323.56,324.56 324.26,324.51 324.97,324.59 325.67,324.21 326.38,323.67 327.09,324.31 327.79,324.36 328.5,324.66 329.2,324.76 329.91,324.01 330.62,323.92 331.32,323.73 332.03,324.6 332.73,324 333.44,323.82 334.14,324.6 334.85,324.61 335.56,324 336.26,324.61 336.97,324.84 337.67,324.64 338.38,324.08 339.09,324.73 339.79,324.62 340.5,324.82 341.2,325.42 341.91,325.41 342.61,325.51 343.32,324.67 344.03,324.68 344.73,324.95 345.44,324.42 346.14,325.51 346.85,324.99 347.56,324.85 348.26,324.9 348.97,324.87 349.67,325.64 350.38,325.53 351.08,325.47 351.79,325.37 352.5,324.92 353.2,325.13 353.91,325.91 354.61,326.1 355.32,326.26 356.03,325.59 356.73,325.36 357.44,325.14 358.14,325.75 358.85,325.8 359.55,325.99 360.26,326.14 360.97,326.37 361.67,326.23 362.38,326.79 363.08,326.29 363.79,327.08 364.5,326.94 365.2,326.34 365.91,326.55 366.61,326.94 367.32,326.98 368.02,327.24 368.73,327.09 369.44,327.04 370.14,327.74 370.85,327.39 371.55,327.87 372.26,328.19 372.97,328.09 373.67,327.96 374.38,328.57 375.08,328.22 375.79,328.71 376.49,327.91 377.2,328.2" fill="none" stroke="#111" stroke-width="1.2" stroke-linejoin="round" stroke-linecap="round"/>
<polyline points="305.4,326.48 306.1,324.73 306.81,324.36 307.51,322.74 308.22,322.17 308.92,320.79 309.63,320.39 310.33,319.1 311.04,318.21 311.74,316.91 312.45,315.99 313.15,315 313.86,313.58 314.56,312.27 315.27,311.71 315.97,310.03 316.68,309.57 317.38,307.82 318.09,306.26 318.79,304.79 319.5,304.2 320.2,303.44 320.91,301.92 321.61,300.99 322.32,299.54 323.02,299.06 323.73,297.97 324.43,296.58 325.14,295.63 325.84,295.52 326.55,294.12 327.25,293.76 327.96,292.24 328.66,290.91 329.37,290.21 330.07,289.14 330.77,288.56 331.48,287.5 332.18,287.49 332.89,286.25 333.59,285.87 334.3,284.44 335,284.14 335.71,283.66 336.41,282.22 337.12,280.71 337.82,279.98 338.53,279.6 339.23,278.67 339.94,278.28 340.64,277.22 341.35,276.92 342.05,276.76 342.76,276 343.46,275.66 344.17,274.58 344.87,274.7 345.58,273.81 346.28,274.26 346.99,274.22 347.69,273.73 348.4,272.76 349.1,271.74 349.81,271.09 350.51,271.07 351.22,270.62 351.92,270.81 352.63,269.8 353.33,269.68 354.03,269.79 354.74,269.29 355.44,268.83 356.15,267.96 356.85,267.47 357.56,267.11 358.26,267.29 358.97,266.98 359.67,265.98 360.38,266.2 361.08,265.1 361.79,265.15 362.49,265.26 363.2,264.26 363.9,264.22 364.61,263.53 365.31,262.35 366.02,262.05 366.72,261.88 367.43,261.41 368.13,261.55 368.84,260.66 369.54,260.74 370.25,259.92 370.95,259.12 371.66,259.1 372.36,258.26 373.07,258.16 373.77,258.05 374.48,257.5 375.18,256.87 375.89,256.75 376.59,257.53 377.3,257.65 378,258.63" fill="none" stroke="#8a8a8a" stroke-width="2.4" stroke-linejoin="round" stroke-linecap="round"/>
<polyline points="305.4,325.81 306.1,324.95 306.81,324.76 307.51,323.67 308.22,323.15 308.92,321.46 309.62,321.59 310.33,320.77 311.03,320.49 311.74,319.78 312.44,319.24 313.14,318.09 313.85,317.8 314.55,316.57 315.25,315.83 315.96,314.88 316.66,314.56 317.37,314.07 318.07,313.15 318.77,313.04 319.48,311.74 320.18,311.45 320.89,310.5 321.59,309.91 322.29,309.31 323,308.5 323.7,307.1 324.41,306.51 325.11,306.37 325.81,306.47 326.52,305.06 327.22,304.84 327.93,304.49 328.63,304.14 329.33,303.14 330.04,302.99 330.74,302.16 331.45,301.91 332.15,300.36 332.85,300.47 333.56,299.78 334.26,299.46 334.96,298.92 335.67,298.83 336.37,299.41 337.08,299.49 337.78,298.97 338.48,299.07 339.19,298.93 339.89,298.97 340.6,298.97 341.3,299.06 342,299.74 342.71,299.92 343.41,299.73 344.12,299.48 344.82,299.36 345.52,299.47 346.23,299.5 346.93,299.31 347.64,299.26 348.34,298.99 349.04,299.63 349.75,300.31 350.45,300.63 351.15,300.05 351.86,300.54 352.56,300.24 353.27,299.9 353.97,300.7 354.67,300.74 355.38,300.96 356.08,300.5 356.79,301.24 357.49,301.69 358.19,301.91 358.9,302.07 359.6,302.54 360.31,302.96 361.01,303.06 361.71,302.99 362.42,303.39 363.12,303.43 363.83,303.53 364.53,302.99 365.23,303.66 365.94,303.55 366.64,304.13 367.35,303.57 368.05,304.41 368.75,304.49 369.46,303.95 370.16,304.43 370.86,303.92 371.57,303.77 372.27,304.06 372.98,303.93 373.68,304.17 374.38,304.71 375.09,304.67 375.79,304.74 376.5,304.44 377.2,304.78" fill="none" stroke="#0d0d0d" stroke-width="2.7" stroke-linejoin="round" stroke-linecap="round"/>
<line x1="390.1" y1="243.5" x2="390.1" y2="354.8" stroke="#1a1a1a" stroke-width="1.3"/>
<line x1="387.9" y1="354.2" x2="390.1" y2="354.2" stroke="#1a1a1a" stroke-width="1.1"/>
<line x1="387.9" y1="332.25" x2="390.1" y2="332.25" stroke="#1a1a1a" stroke-width="1.1"/>
<line x1="387.9" y1="310.3" x2="390.1" y2="310.3" stroke="#1a1a1a" stroke-width="1.1"/>
<line x1="387.9" y1="288.35" x2="390.1" y2="288.35" stroke="#1a1a1a" stroke-width="1.1"/>
<line x1="387.9" y1="266.4" x2="390.1" y2="266.4" stroke="#1a1a1a" stroke-width="1.1"/>
<line x1="387.9" y1="244.45" x2="390.1" y2="244.45" stroke="#1a1a1a" stroke-width="1.1"/>
<line x1="389.5" y1="354.2" x2="494.6" y2="354.2" stroke="#1a1a1a" stroke-width="1.3"/>
<line x1="389.5" y1="354.2" x2="389.5" y2="356.8" stroke="#1a1a1a" stroke-width="1.1"/>
<line x1="402.55" y1="354.2" x2="402.55" y2="356.8" stroke="#1a1a1a" stroke-width="1.1"/>
<line x1="415.6" y1="354.2" x2="415.6" y2="356.8" stroke="#1a1a1a" stroke-width="1.1"/>
<line x1="428.65" y1="354.2" x2="428.65" y2="356.8" stroke="#1a1a1a" stroke-width="1.1"/>
<line x1="441.7" y1="354.2" x2="441.7" y2="356.8" stroke="#1a1a1a" stroke-width="1.1"/>
<line x1="454.75" y1="354.2" x2="454.75" y2="356.8" stroke="#1a1a1a" stroke-width="1.1"/>
<line x1="467.8" y1="354.2" x2="467.8" y2="356.8" stroke="#1a1a1a" stroke-width="1.1"/>
<line x1="480.85" y1="354.2" x2="480.85" y2="356.8" stroke="#1a1a1a" stroke-width="1.1"/>
<line x1="493.9" y1="354.2" x2="493.9" y2="356.8" stroke="#1a1a1a" stroke-width="1.1"/>
<text transform="translate(415.6,366.4) scale(1.0000,1)" font-size="9.60" text-anchor="middle" font-weight="normal" fill="#111" stroke="#111" stroke-width="0.25" >0</text>
<text transform="translate(441.7,366.4) scale(1.0000,1)" font-size="9.60" text-anchor="middle" font-weight="normal" fill="#111" stroke="#111" stroke-width="0.25" >1</text>
<text transform="translate(467.8,366.4) scale(1.0000,1)" font-size="9.60" text-anchor="middle" font-weight="normal" fill="#111" stroke="#111" stroke-width="0.25" >2</text>
<text transform="translate(493.9,366.4) scale(1.0000,1)" font-size="9.60" text-anchor="middle" font-weight="normal" fill="#111" stroke="#111" stroke-width="0.25" >3</text>
<text transform="translate(387.7,374.8) scale(0.9615,1)" font-size="10.40" text-anchor="middle" font-weight="normal" fill="#111" stroke="#111" stroke-width="0.25" >Time (minutes)</text>
<text transform="translate(429.3,257.3) scale(0.9615,1)" font-size="9.98" text-anchor="middle" font-weight="normal" fill="#111" stroke="#111" stroke-width="0.25" >U73122</text>
<text transform="translate(429.5,268.3) scale(0.9615,1)" font-size="9.98" text-anchor="middle" font-weight="normal" fill="#111" stroke="#111" stroke-width="0.25" >(1 &#956;M)</text>
<polyline points="392.5,334.28 393.2,334.4 393.91,334.38 394.61,334.38 395.31,334.63 396.02,334.89 396.72,334.52 397.43,334.53 398.13,334.7 398.83,334.15 399.54,334.41 400.24,333.77 400.94,334.38 401.65,334.1 402.35,334.13 403.06,334.66 403.76,334.05 404.46,333.58 405.17,334.03 405.87,333.98 406.57,334.32 407.28,333.98 407.98,333.87 408.69,334.19 409.39,333.8 410.09,334.2 410.8,333.71 411.5,334.28" fill="none" stroke="#888" stroke-width="2.1" stroke-linejoin="round" stroke-linecap="round"/>
<polyline points="391.5,328.85 392.22,329.35 392.94,329.33 393.65,329.34 394.37,329.99 395.09,330.28 395.81,330.18 396.52,329.65 397.24,330.05 397.96,330.05 398.68,330.58 399.4,330.23 400.11,330.43 400.83,330.32 401.55,329.96 402.27,329.89 402.99,329.93 403.7,330.06 404.42,329.63 405.14,329.29 405.86,329.66 406.58,328.84 407.29,329.22 408.01,329.11 408.73,328.87 409.45,328.93 410.16,329.56 410.88,330.14 411.6,330.44" fill="none" stroke="#111" stroke-width="2.6" stroke-linejoin="round" stroke-linecap="round"/>
<polyline points="419.3,337.81 420.01,337 420.73,337.1 421.44,336.88 422.16,337.8 422.87,337.99 423.58,337.11 424.3,337.38 425.01,337.43 425.72,336.77 426.44,336.99 427.15,337.47 427.87,337.47 428.58,337.01 429.29,337.44 430.01,336.95 430.72,337.08 431.43,336.93 432.15,337.53 432.86,337.27 433.58,337.35 434.29,337.18 435,336.72 435.72,337.27 436.43,337.09 437.14,336.97 437.86,336.39 438.57,336.04 439.29,336.4 440,336.79" fill="none" stroke="#999" stroke-width="1.3" stroke-linejoin="round" stroke-linecap="round"/>
<polyline points="419.3,337.92 420,337.37 420.7,336.87 421.41,337.02 422.11,337.34 422.81,336.55 423.51,336.83 424.21,336.19 424.92,336.03 425.62,335.6 426.32,335.62 427.02,335.61 427.72,336.12 428.42,336.16 429.13,335.24 429.83,335.11 430.53,335.72 431.23,335.07 431.93,334.99 432.64,335.06 433.34,334.7 434.04,334.73 434.74,334.86 435.44,334.86 436.15,335.46 436.85,334.86 437.55,334.58 438.25,335.24 438.95,334.91 439.66,335.2 440.36,335.05 441.06,335.13 441.76,334.63 442.46,334.31 443.16,334.88 443.87,334.76 444.57,334.82 445.27,334.98 445.97,335.12 446.67,334.66 447.38,334.63 448.08,335.23 448.78,335 449.48,334.68 450.18,334.96 450.89,334.66 451.59,335.13 452.29,334.5 452.99,335.16 453.69,335.09 454.4,334.85 455.1,335.42 455.8,334.88 456.5,334.7 457.2,334.47 457.9,334.93 458.61,335.3 459.31,335.34 460.01,335.08 460.71,335.43 461.41,334.8 462.12,334.83 462.82,335.22 463.52,335.69 464.22,335.48 464.92,335.5 465.63,335.6 466.33,335.23 467.03,335.72 467.73,335.66 468.43,335.22 469.14,335.16 469.84,335.59 470.54,335.24 471.24,334.97 471.94,335.64 472.64,335.49 473.35,335.44 474.05,335.59 474.75,335.9 475.45,335.18 476.15,335.19 476.86,334.91 477.56,335.21 478.26,335.41 478.96,335.86 479.66,335.8 480.37,335.7 481.07,335.49 481.77,335.62 482.47,335.35 483.17,335.89 483.88,336.01 484.58,336.1 485.28,335.4 485.98,335.77 486.68,335.97 487.38,335.77 488.09,336.15 488.79,336.28 489.49,336.16 490.19,336.22 490.89,336.06 491.6,336.27 492.3,335.54 493,335.95" fill="none" stroke="#111" stroke-width="1.4" stroke-linejoin="round" stroke-linecap="round"/>
<polyline points="420.5,328.25 421.2,326.93 421.9,325.29 422.6,323.64 423.3,322.71 424,321.72 424.7,320.03 425.4,318.66 426.1,317.38 426.8,315.83 427.5,314.9 428.2,313.85 428.9,312.27 429.6,310.3 430.3,309.17 431,307.31 431.7,306.71 432.4,305 433.1,303.09 433.8,302.14 434.5,300.48 435.2,299.37 435.9,298.02 436.6,297.21 437.3,296.26 438,295.44 438.7,293.57 439.4,293.01 440.1,291.29 440.8,290.1 441.5,289.47 442.2,288.33 442.9,287.39 443.6,286.76 444.3,285.53 445,285 445.7,283.28 446.4,282.56 447.1,281.55 447.8,280.33 448.5,278.78 449.2,278.46 449.9,276.91 450.6,276.3 451.3,275.48 452,274.35 452.7,274.1 453.4,273.51 454.1,272.55 454.8,271.7 455.5,271.12 456.2,270.6 456.9,269.61 457.6,269.49 458.3,269.07 459,268.25 459.7,267.76 460.4,266.52 461.1,266.44 461.8,265.02 462.5,264.61 463.2,263.65 463.9,263.21 464.6,262.83 465.3,262.47 466,261.88 466.7,261.56 467.4,261.3 468.1,261.3 468.8,260.84 469.5,260.24 470.2,260.28 470.9,259.71 471.6,259.16 472.3,258.49 473,258.62 473.7,257.88 474.4,257.45 475.1,257.34 475.8,257.17 476.5,257.13 477.2,256.58 477.9,256.3 478.6,255.71 479.3,254.83 480,254.13 480.7,252.92 481.4,252.48 482.1,251.93 482.8,252.44 483.5,252.15 484.2,251.58 484.9,250.58 485.6,249.97 486.3,249.23 487,249.25 487.7,249.47 488.4,248.62 489.1,247.85 489.8,247.43 490.5,247.19 491.2,247.4 491.9,247.05 492.6,246.28 493.3,245.26" fill="none" stroke="#8a8a8a" stroke-width="2.4" stroke-linejoin="round" stroke-linecap="round"/>
<polyline points="419.3,330.56 420,330.48 420.71,329.77 421.41,328.63 422.11,329.23 422.81,329.27 423.52,328.63 424.22,327.63 424.92,328.48 425.63,328.04 426.33,327.04 427.03,326.97 427.73,327.26 428.44,327.6 429.14,326.93 429.84,326.81 430.55,326.02 431.25,325.75 431.95,326.6 432.65,325.95 433.36,325.24 434.06,325.68 434.76,325 435.47,324.81 436.17,325.06 436.87,325.24 437.57,325.27 438.28,325.3 438.98,324.8 439.68,323.99 440.39,324.66 441.09,323.73 441.79,324 442.49,324.1 443.2,324.71 443.9,325.08 444.6,324.59 445.31,325.2 446.01,325.58 446.71,325.48 447.41,325.06 448.12,326.22 448.82,326.2 449.52,325.48 450.23,325.65 450.93,326.96 451.63,326.3 452.33,326.46 453.04,327.23 453.74,327.63 454.44,327.56 455.15,327.8 455.85,326.82 456.55,326.66 457.25,328.02 457.96,328.21 458.66,327.14 459.36,326.88 460.07,327.15 460.77,328.34 461.47,327.66 462.17,328.19 462.88,328.8 463.58,328.59 464.28,329 464.99,328.17 465.69,327.8 466.39,327.53 467.09,328.63 467.8,328.01 468.5,329.21 469.2,329.21 469.91,328.46 470.61,329.22 471.31,328.5 472.01,328.86 472.72,328.39 473.42,329.33 474.12,329.81 474.83,330.04 475.53,328.74 476.23,329.7 476.93,329.57 477.64,329.98 478.34,329.66 479.04,329.78 479.75,329.82 480.45,330.19 481.15,329.22 481.85,328.94 482.56,329.65 483.26,329.51 483.96,329.68 484.67,329.17 485.37,330.19 486.07,329.43 486.77,330.48 487.48,330.81 488.18,330.4 488.88,329.8 489.59,330.48 490.29,330.04 490.99,330.29 491.69,329.91 492.4,331.17 493.1,330.93" fill="none" stroke="#0d0d0d" stroke-width="2.6" stroke-linejoin="round" stroke-linecap="round"/>
<line x1="471" y1="275.3" x2="485.7" y2="275.3" stroke="#8a8a8a" stroke-width="2.4"/>
<text transform="translate(488.8,278) scale(0.9615,1)" font-size="9.98" text-anchor="start" font-weight="normal" fill="#111" stroke="#111" stroke-width="0.25" >Mn<tspan dx="0.5" dy="-2.9" font-size="7.79">2+</tspan></text>
<line x1="471" y1="288.2" x2="485.7" y2="288.2" stroke="#0d0d0d" stroke-width="3.1"/>
<text transform="translate(488.8,290.9) scale(0.9615,1)" font-size="9.98" text-anchor="start" font-weight="normal" fill="#111" stroke="#111" stroke-width="0.25" >fMLP</text>
<line x1="471" y1="301.6" x2="485.7" y2="301.6" stroke="#222" stroke-width="1.9"/>
<text transform="translate(488.8,304.3) scale(0.9615,1)" font-size="9.98" text-anchor="start" font-weight="normal" fill="#111" stroke="#111" stroke-width="0.25" >SDF-1</text>
<line x1="471" y1="315.2" x2="485.7" y2="315.2" stroke="#999" stroke-width="1.4"/>
<text transform="translate(488.8,317.9) scale(0.9615,1)" font-size="9.98" text-anchor="start" font-weight="normal" fill="#111" stroke="#111" stroke-width="0.25" >Buffer</text>
</svg></div>
</body></html>
